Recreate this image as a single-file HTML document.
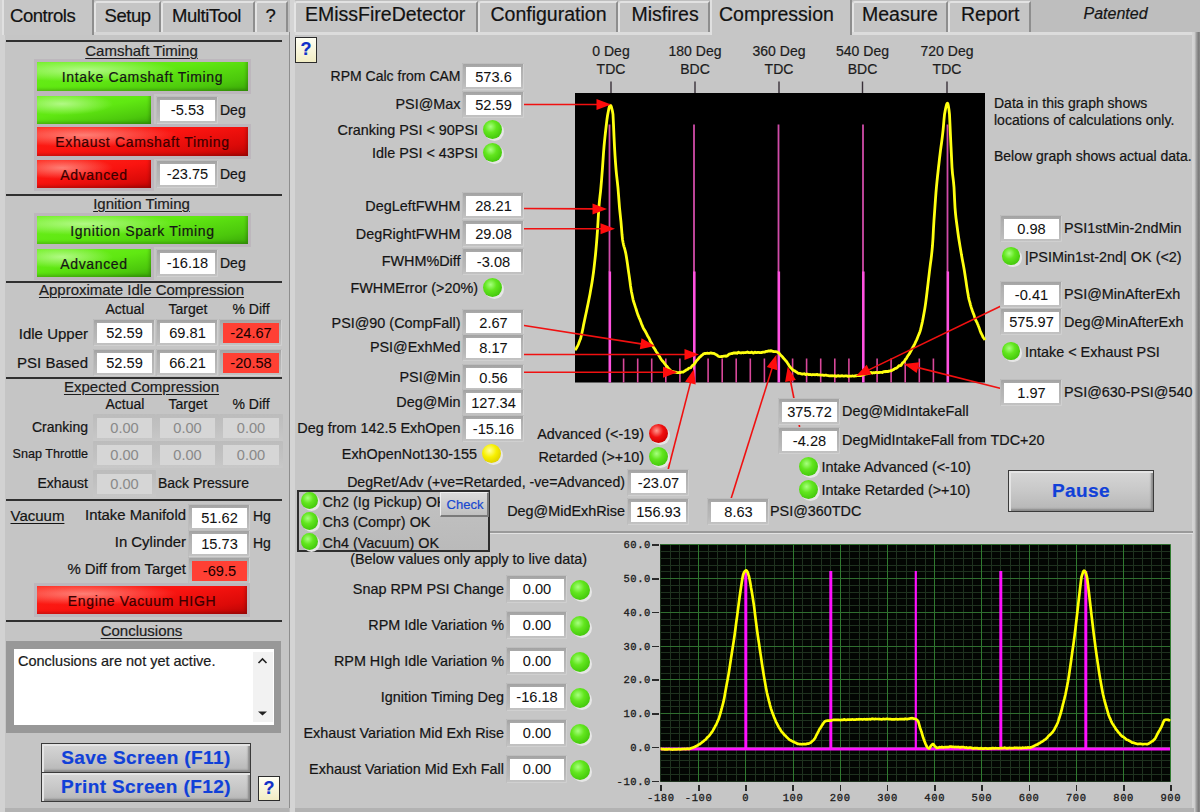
<!DOCTYPE html>
<html><head><meta charset="utf-8"><title>Compression</title>
<style>
html,body{margin:0;padding:0;width:1200px;height:812px;overflow:hidden;background:#c3c3c3;}
body{position:relative;font-family:"Liberation Sans", sans-serif;}
body div{position:absolute;}
.t{white-space:nowrap;-webkit-text-stroke:0.2px currentColor;}
</style></head><body>
<div style="left:0;top:0;width:1200px;height:812px;background:#bebebe;"></div>
<div style="left:0px;top:0px;width:5px;height:812px;background:#d2d2d2;"></div>
<div style="left:5px;top:32px;width:284px;height:776px;background:#c5c5c5;"></div>
<div style="left:5px;top:32px;width:284px;height:3px;background:#d6d6d6;"></div>
<div style="left:289px;top:32px;width:1px;height:776px;background:#8e8e8e;"></div>
<div style="left:290px;top:0px;width:5px;height:812px;background:#d4d4d4;"></div>
<div style="left:5px;top:808px;width:284px;height:4px;background:#b2b2b2;"></div>
<div style="left:295px;top:32px;width:899px;height:776px;background:#c6c6c6;"></div>
<div style="left:295px;top:32px;width:899px;height:3px;background:#dcdcdc;"></div>
<div style="left:1192px;top:32px;width:8px;height:780px;background:linear-gradient(90deg,#d6d6d6 0%,#d0d0d0 30%,#a0a0a0 55%,#7c7c7c 80%,#8a8a8a 100%);"></div>
<div style="left:295px;top:808px;width:899px;height:4px;background:#b2b2b2;"></div>
<svg width="1200" height="812" style="position:absolute;left:0;top:0">
<rect x="575" y="93" width="410" height="289.5" fill="#000"/>
<line x1="623.6" y1="358.5" x2="623.6" y2="382.5" stroke="#d8489a" stroke-width="1.6"/>
<line x1="637.7" y1="358.5" x2="637.7" y2="382.5" stroke="#d8489a" stroke-width="1.6"/>
<line x1="651.7" y1="358.5" x2="651.7" y2="382.5" stroke="#d8489a" stroke-width="1.6"/>
<line x1="665.8" y1="358.5" x2="665.8" y2="382.5" stroke="#d8489a" stroke-width="1.6"/>
<line x1="679.9" y1="358.5" x2="679.9" y2="382.5" stroke="#d8489a" stroke-width="1.6"/>
<line x1="708.1" y1="358.5" x2="708.1" y2="382.5" stroke="#d8489a" stroke-width="1.6"/>
<line x1="722.2" y1="358.5" x2="722.2" y2="382.5" stroke="#d8489a" stroke-width="1.6"/>
<line x1="736.2" y1="358.5" x2="736.2" y2="382.5" stroke="#d8489a" stroke-width="1.6"/>
<line x1="750.3" y1="358.5" x2="750.3" y2="382.5" stroke="#d8489a" stroke-width="1.6"/>
<line x1="764.4" y1="358.5" x2="764.4" y2="382.5" stroke="#d8489a" stroke-width="1.6"/>
<line x1="792.6" y1="358.5" x2="792.6" y2="382.5" stroke="#d8489a" stroke-width="1.6"/>
<line x1="806.6" y1="358.5" x2="806.6" y2="382.5" stroke="#d8489a" stroke-width="1.6"/>
<line x1="820.7" y1="358.5" x2="820.7" y2="382.5" stroke="#d8489a" stroke-width="1.6"/>
<line x1="834.8" y1="358.5" x2="834.8" y2="382.5" stroke="#d8489a" stroke-width="1.6"/>
<line x1="848.9" y1="358.5" x2="848.9" y2="382.5" stroke="#d8489a" stroke-width="1.6"/>
<line x1="877.1" y1="358.5" x2="877.1" y2="382.5" stroke="#d8489a" stroke-width="1.6"/>
<line x1="891.1" y1="358.5" x2="891.1" y2="382.5" stroke="#d8489a" stroke-width="1.6"/>
<line x1="905.2" y1="358.5" x2="905.2" y2="382.5" stroke="#d8489a" stroke-width="1.6"/>
<line x1="919.3" y1="358.5" x2="919.3" y2="382.5" stroke="#d8489a" stroke-width="1.6"/>
<line x1="933.4" y1="358.5" x2="933.4" y2="382.5" stroke="#d8489a" stroke-width="1.6"/>
<line x1="609.5" y1="124.5" x2="609.5" y2="272" stroke="#d04ca8" stroke-width="1.8"/>
<line x1="609.8" y1="271.5" x2="609.8" y2="382.5" stroke="#ff52e0" stroke-width="2.6"/>
<line x1="694.0" y1="124.5" x2="694.0" y2="272" stroke="#d04ca8" stroke-width="1.8"/>
<line x1="694.3" y1="271.5" x2="694.3" y2="382.5" stroke="#ff52e0" stroke-width="2.6"/>
<line x1="778.5" y1="124.5" x2="778.5" y2="272" stroke="#d04ca8" stroke-width="1.8"/>
<line x1="778.8" y1="271.5" x2="778.8" y2="382.5" stroke="#ff52e0" stroke-width="2.6"/>
<line x1="863.0" y1="124.5" x2="863.0" y2="272" stroke="#d04ca8" stroke-width="1.8"/>
<line x1="863.3" y1="271.5" x2="863.3" y2="382.5" stroke="#ff52e0" stroke-width="2.6"/>
<line x1="947.5" y1="124.5" x2="947.5" y2="272" stroke="#d04ca8" stroke-width="1.8"/>
<line x1="947.8" y1="271.5" x2="947.8" y2="382.5" stroke="#ff52e0" stroke-width="2.6"/>
<line x1="611" y1="81.5" x2="611" y2="93" stroke="#383038" stroke-width="1.4"/>
<line x1="695" y1="81.5" x2="695" y2="93" stroke="#383038" stroke-width="1.4"/>
<line x1="779" y1="81.5" x2="779" y2="93" stroke="#383038" stroke-width="1.4"/>
<line x1="862.5" y1="81.5" x2="862.5" y2="93" stroke="#383038" stroke-width="1.4"/>
<line x1="947" y1="81.5" x2="947" y2="93" stroke="#383038" stroke-width="1.4"/>
<polyline points="575.0,349.8 575.5,349.5 576.0,348.9 576.5,348.0 577.0,347.0 577.5,346.1 578.0,345.1 578.5,344.0 579.0,342.5 579.5,341.4 580.0,339.9 580.5,338.8 581.0,336.9 581.5,334.9 582.0,332.7 582.5,330.4 583.0,327.9 583.5,325.3 584.0,322.9 584.5,320.5 585.0,318.1 585.5,315.8 586.0,313.5 586.5,311.2 587.0,308.7 587.5,306.4 588.0,304.0 588.5,301.4 589.0,298.9 589.5,296.5 590.0,293.9 590.5,291.1 591.0,288.2 591.5,285.4 592.0,282.4 592.5,279.2 593.0,275.8 593.5,272.2 594.0,268.1 594.5,263.7 595.0,259.2 595.5,254.5 596.0,249.1 596.5,243.4 597.0,237.2 597.5,230.3 598.0,221.9 598.5,213.3 599.0,206.0 599.5,200.7 600.0,196.1 600.5,191.8 601.0,186.5 601.5,180.7 602.0,174.2 602.5,167.7 603.0,160.3 603.5,153.0 604.0,146.9 604.5,141.4 605.0,136.7 605.5,132.0 606.0,127.6 606.5,123.3 607.0,119.2 607.5,115.8 608.0,112.9 608.5,110.4 609.0,107.8 609.5,106.1 610.0,105.2 610.5,105.4 611.0,106.0 611.5,107.3 612.0,109.3 612.5,111.4 613.0,114.5 613.5,124.8 614.0,136.4 614.5,146.7 615.0,155.4 615.5,162.6 616.0,169.1 616.5,174.3 617.0,178.8 617.5,183.3 618.0,188.1 618.5,194.5 619.0,201.2 619.5,207.6 620.0,212.5 620.5,217.3 621.0,222.1 621.5,228.1 622.0,234.5 622.5,239.4 623.0,242.3 623.5,244.6 624.0,246.6 624.5,248.2 625.0,250.0 625.5,252.1 626.0,254.6 626.5,257.6 627.0,260.7 627.5,264.1 628.0,267.8 628.5,271.4 629.0,274.6 629.5,278.2 630.0,281.8 630.5,285.7 631.0,289.0 631.5,292.0 632.0,294.3 632.5,296.8 633.0,299.3 633.5,301.3 634.0,302.8 634.5,304.2 635.0,305.8 635.5,307.4 636.0,308.8 636.5,310.5 637.0,312.1 637.5,313.6 638.0,315.1 638.5,316.3 639.0,317.6 639.5,318.6 640.0,319.7 640.5,321.0 641.0,322.4 641.5,323.8 642.0,324.9 642.5,326.2 643.0,327.3 643.5,328.4 644.0,329.2 644.5,330.1 645.0,330.8 645.5,331.7 646.0,332.6 646.5,333.6 647.0,334.6 647.5,335.7 648.0,336.6 648.5,337.3 649.0,338.2 649.5,339.2 650.0,340.5 650.5,341.5 651.0,342.3 651.5,343.0 652.0,344.1 652.5,345.2 653.0,346.4 653.5,347.3 654.0,348.0 654.5,348.7 655.0,349.3 655.5,350.3 656.0,351.2 656.5,352.0 657.0,352.7 657.5,353.3 658.0,354.1 658.5,354.8 659.0,355.7 659.5,356.5 660.0,357.4 660.5,358.3 661.0,359.1 661.5,359.8 662.0,360.4 662.5,361.0 663.0,361.6 663.5,362.1 664.0,362.8 664.5,363.5 665.0,364.2 665.5,364.7 666.0,365.4 666.5,365.9 667.0,366.6 667.5,367.1 668.0,367.8 668.5,368.5 669.0,369.0 669.5,369.4 670.0,369.8 670.5,370.4 671.0,370.9 671.5,371.2 672.0,371.3 672.5,371.4 673.0,371.8 673.5,371.7 674.0,372.1 674.5,372.0 675.0,372.1 675.5,372.1 676.0,372.2 676.5,372.5 677.0,372.6 677.5,372.6 678.0,372.6 678.5,372.6 679.0,372.5 679.5,372.6 680.0,372.4 680.5,372.5 681.0,372.3 681.5,372.2 682.0,372.0 682.5,372.1 683.0,372.2 683.5,371.9 684.0,371.5 684.5,371.1 685.0,370.9 685.5,370.6 686.0,370.1 686.5,369.9 687.0,369.5 687.5,369.4 688.0,368.9 688.5,368.5 689.0,368.1 689.5,368.1 690.0,368.0 690.5,367.8 691.0,367.4 691.5,366.7 692.0,366.1 692.5,365.5 693.0,365.1 693.5,364.8 694.0,364.3 694.5,363.7 695.0,363.1 695.5,362.2 696.0,361.4 696.5,360.8 697.0,360.2 697.5,359.7 698.0,359.2 698.5,358.6 699.0,357.9 699.5,357.3 700.0,357.0 700.5,356.6 701.0,356.0 701.5,355.5 702.0,355.2 702.5,354.9 703.0,354.3 703.5,353.9 704.0,353.7 704.5,353.6 705.0,353.4 705.5,353.5 706.0,353.3 706.5,353.4 707.0,353.2 707.5,353.2 708.0,353.3 708.5,353.3 709.0,353.3 709.5,353.3 710.0,353.2 710.5,353.1 711.0,352.9 711.5,353.0 712.0,353.3 712.5,353.4 713.0,353.4 713.5,353.4 714.0,353.4 714.5,353.8 715.0,354.0 715.5,354.3 716.0,354.6 716.5,354.9 717.0,355.1 717.5,355.6 718.0,356.1 718.5,356.4 719.0,356.5 719.5,356.6 720.0,356.7 720.5,356.6 721.0,356.7 721.5,356.4 722.0,356.6 722.5,356.5 723.0,356.4 723.5,356.1 724.0,356.1 724.5,356.2 725.0,356.0 725.5,356.0 726.0,356.3 726.5,356.2 727.0,356.0 727.5,355.4 728.0,355.3 728.5,354.7 729.0,354.3 729.5,354.0 730.0,353.9 730.5,353.9 731.0,353.6 731.5,353.5 732.0,353.5 732.5,353.5 733.0,353.3 733.5,352.9 734.0,352.9 734.5,353.1 735.0,353.1 735.5,352.9 736.0,352.8 736.5,353.1 737.0,353.3 737.5,352.9 738.0,352.5 738.5,352.2 739.0,352.6 739.5,352.6 740.0,352.9 740.5,352.9 741.0,353.0 741.5,352.8 742.0,352.7 742.5,352.6 743.0,352.7 743.5,352.8 744.0,352.7 744.5,352.7 745.0,352.6 745.5,352.7 746.0,352.4 746.5,352.3 747.0,352.3 747.5,352.0 748.0,352.2 748.5,352.4 749.0,352.7 749.5,352.7 750.0,352.6 750.5,352.7 751.0,352.3 751.5,352.2 752.0,352.2 752.5,352.7 753.0,353.0 753.5,353.1 754.0,352.7 754.5,352.3 755.0,352.2 755.5,352.3 756.0,352.7 756.5,352.6 757.0,352.6 757.5,352.3 758.0,352.4 758.5,352.3 759.0,352.5 759.5,352.5 760.0,352.6 760.5,352.6 761.0,352.5 761.5,352.5 762.0,352.5 762.5,352.3 763.0,352.1 763.5,352.1 764.0,352.1 764.5,352.2 765.0,351.9 765.5,351.7 766.0,351.4 766.5,351.3 767.0,351.3 767.5,351.4 768.0,351.1 768.5,350.9 769.0,350.8 769.5,351.1 770.0,350.9 770.5,351.0 771.0,350.7 771.5,351.1 772.0,351.0 772.5,351.2 773.0,351.4 773.5,351.6 774.0,351.6 774.5,351.6 775.0,351.6 775.5,351.7 776.0,351.7 776.5,351.8 777.0,351.9 777.5,352.0 778.0,352.5 778.5,352.8 779.0,353.1 779.5,353.7 780.0,354.3 780.5,355.0 781.0,355.5 781.5,355.9 782.0,356.3 782.5,356.9 783.0,357.6 783.5,358.3 784.0,358.8 784.5,359.3 785.0,359.7 785.5,360.4 786.0,360.9 786.5,361.6 787.0,362.3 787.5,363.1 788.0,363.8 788.5,364.6 789.0,365.5 789.5,366.3 790.0,367.1 790.5,367.4 791.0,368.1 791.5,368.5 792.0,368.9 792.5,369.6 793.0,370.0 793.5,370.5 794.0,370.6 794.5,370.7 795.0,371.1 795.5,371.6 796.0,371.8 796.5,372.1 797.0,372.3 797.5,372.8 798.0,373.2 798.5,373.4 799.0,373.3 799.5,373.3 800.0,373.4 800.5,373.5 801.0,373.7 801.5,374.0 802.0,374.1 802.5,374.0 803.0,374.0 803.5,373.8 804.0,373.8 804.5,373.7 805.0,374.2 805.5,374.4 806.0,374.6 806.5,374.3 807.0,374.0 807.5,374.1 808.0,374.3 808.5,374.6 809.0,374.6 809.5,374.5 810.0,374.5 810.5,374.5 811.0,374.6 811.5,374.9 812.0,374.8 812.5,374.7 813.0,374.5 813.5,374.6 814.0,374.6 814.5,374.7 815.0,374.8 815.5,374.7 816.0,374.6 816.5,374.5 817.0,374.5 817.5,374.8 818.0,374.7 818.5,374.9 819.0,374.8 819.5,375.0 820.0,374.9 820.5,375.0 821.0,375.1 821.5,375.2 822.0,375.2 822.5,375.0 823.0,375.1 823.5,375.3 824.0,375.4 824.5,375.4 825.0,375.2 825.5,375.1 826.0,375.1 826.5,375.3 827.0,375.4 827.5,375.5 828.0,375.6 828.5,375.6 829.0,375.8 829.5,375.9 830.0,375.8 830.5,375.8 831.0,375.7 831.5,375.8 832.0,375.9 832.5,375.7 833.0,375.9 833.5,375.8 834.0,375.9 834.5,375.6 835.0,375.8 835.5,376.0 836.0,376.3 836.5,376.3 837.0,376.0 837.5,375.8 838.0,375.7 838.5,375.7 839.0,376.0 839.5,376.0 840.0,376.1 840.5,376.1 841.0,375.9 841.5,375.8 842.0,375.7 842.5,375.8 843.0,376.0 843.5,376.2 844.0,376.2 844.5,376.0 845.0,375.9 845.5,375.8 846.0,375.8 846.5,375.8 847.0,375.9 847.5,376.2 848.0,376.4 848.5,376.3 849.0,376.1 849.5,376.1 850.0,376.1 850.5,376.1 851.0,376.2 851.5,376.2 852.0,376.0 852.5,375.9 853.0,376.0 853.5,376.1 854.0,376.1 854.5,376.1 855.0,375.9 855.5,375.8 856.0,375.7 856.5,375.8 857.0,375.7 857.5,375.5 858.0,375.5 858.5,375.5 859.0,375.5 859.5,375.5 860.0,375.6 860.5,375.6 861.0,375.6 861.5,375.3 862.0,375.0 862.5,374.7 863.0,374.4 863.5,374.5 864.0,374.3 864.5,374.4 865.0,374.2 865.5,374.0 866.0,373.8 866.5,373.7 867.0,373.8 867.5,373.7 868.0,373.2 868.5,373.2 869.0,372.8 869.5,373.0 870.0,372.7 870.5,372.5 871.0,372.4 871.5,372.8 872.0,373.0 872.5,373.0 873.0,372.7 873.5,372.7 874.0,372.7 874.5,372.8 875.0,372.7 875.5,372.6 876.0,372.4 876.5,372.4 877.0,372.5 877.5,372.6 878.0,372.7 878.5,372.6 879.0,372.4 879.5,372.5 880.0,372.4 880.5,372.4 881.0,372.4 881.5,372.4 882.0,372.5 882.5,372.5 883.0,372.1 883.5,371.7 884.0,371.7 884.5,371.7 885.0,371.8 885.5,371.5 886.0,371.6 886.5,371.3 887.0,371.6 887.5,371.4 888.0,371.5 888.5,371.2 889.0,371.3 889.5,371.1 890.0,371.0 890.5,370.7 891.0,370.8 891.5,370.7 892.0,370.4 892.5,370.1 893.0,369.8 893.5,369.6 894.0,369.2 894.5,368.9 895.0,368.5 895.5,368.3 896.0,368.3 896.5,368.0 897.0,367.7 897.5,367.3 898.0,366.8 898.5,366.3 899.0,365.7 899.5,365.6 900.0,365.8 900.5,365.6 901.0,365.4 901.5,364.6 902.0,363.9 902.5,362.9 903.0,362.5 903.5,362.2 904.0,361.7 904.5,361.0 905.0,360.1 905.5,359.6 906.0,358.9 906.5,358.3 907.0,357.2 907.5,356.4 908.0,355.6 908.5,355.1 909.0,354.1 909.5,353.5 910.0,352.5 910.5,351.8 911.0,350.7 911.5,349.9 912.0,348.8 912.5,347.9 913.0,346.9 913.5,346.3 914.0,345.2 914.5,344.4 915.0,343.3 915.5,342.2 916.0,341.1 916.5,340.2 917.0,339.2 917.5,337.8 918.0,336.5 918.5,335.3 919.0,334.1 919.5,332.9 920.0,331.5 920.5,329.9 921.0,327.9 921.5,325.7 922.0,323.6 922.5,321.3 923.0,318.7 923.5,315.9 924.0,313.3 924.5,310.5 925.0,307.5 925.5,304.1 926.0,300.4 926.5,296.5 927.0,292.3 927.5,288.0 928.0,283.8 928.5,279.5 929.0,275.3 929.5,271.1 930.0,267.1 930.5,263.3 931.0,259.7 931.5,255.6 932.0,250.9 932.5,245.5 933.0,238.2 933.5,228.3 934.0,220.0 934.5,213.1 935.0,206.0 935.5,198.9 936.0,192.2 936.5,186.5 937.0,181.3 937.5,176.5 938.0,172.0 938.5,167.4 939.0,163.1 939.5,158.7 940.0,154.7 940.5,150.4 941.0,146.8 941.5,143.3 942.0,139.4 942.5,135.3 943.0,130.9 943.5,125.6 944.0,119.6 944.5,114.6 945.0,111.7 945.5,109.0 946.0,106.8 946.5,104.8 947.0,103.6 947.5,103.2 948.0,104.2 948.5,106.6 949.0,109.9 949.5,114.4 950.0,125.0 950.5,136.2 951.0,146.5 951.5,157.1 952.0,167.4 952.5,173.6 953.0,177.6 953.5,181.8 954.0,187.3 954.5,197.9 955.0,207.3 955.5,213.3 956.0,218.1 956.5,222.0 957.0,225.8 957.5,229.5 958.0,233.3 958.5,236.7 959.0,240.0 959.5,242.9 960.0,246.1 960.5,249.0 961.0,252.0 961.5,255.1 962.0,257.8 962.5,260.5 963.0,263.0 963.5,265.7 964.0,268.6 964.5,271.6 965.0,274.8 965.5,278.1 966.0,281.3 966.5,284.9 967.0,288.1 967.5,291.3 968.0,294.1 968.5,297.0 969.0,299.4 969.5,301.2 970.0,302.8 970.5,304.8 971.0,306.6 971.5,308.2 972.0,309.6 972.5,311.2 973.0,312.5 973.5,313.9 974.0,315.0 974.5,316.7 975.0,318.2 975.5,319.7 976.0,320.6 976.5,321.7 977.0,322.5 977.5,323.8 978.0,324.9 978.5,326.3 979.0,327.5 979.5,328.9 980.0,330.4 980.5,331.7 981.0,333.0 981.5,333.9 982.0,334.9 982.5,335.9 983.0,337.1 983.5,337.8 984.0,338.4 984.5,339.1 985.0,340.0" fill="none" stroke="#ffff10" stroke-width="2.8" stroke-linejoin="round"/>
<rect x="660.5" y="544.5" width="509.5" height="237.0" fill="#030603"/>
<line x1="660.5" y1="544.5" x2="660.5" y2="781.5" stroke="#1f321f" stroke-width="1"/>
<line x1="670.5" y1="544.5" x2="670.5" y2="781.5" stroke="#1f321f" stroke-width="1"/>
<line x1="679.5" y1="544.5" x2="679.5" y2="781.5" stroke="#1f321f" stroke-width="1"/>
<line x1="689.5" y1="544.5" x2="689.5" y2="781.5" stroke="#1f321f" stroke-width="1"/>
<line x1="698.5" y1="544.5" x2="698.5" y2="781.5" stroke="#1f321f" stroke-width="1"/>
<line x1="708.5" y1="544.5" x2="708.5" y2="781.5" stroke="#1f321f" stroke-width="1"/>
<line x1="717.5" y1="544.5" x2="717.5" y2="781.5" stroke="#1f321f" stroke-width="1"/>
<line x1="726.5" y1="544.5" x2="726.5" y2="781.5" stroke="#1f321f" stroke-width="1"/>
<line x1="736.5" y1="544.5" x2="736.5" y2="781.5" stroke="#1f321f" stroke-width="1"/>
<line x1="745.5" y1="544.5" x2="745.5" y2="781.5" stroke="#1f321f" stroke-width="1"/>
<line x1="755.5" y1="544.5" x2="755.5" y2="781.5" stroke="#1f321f" stroke-width="1"/>
<line x1="764.5" y1="544.5" x2="764.5" y2="781.5" stroke="#1f321f" stroke-width="1"/>
<line x1="774.5" y1="544.5" x2="774.5" y2="781.5" stroke="#1f321f" stroke-width="1"/>
<line x1="783.5" y1="544.5" x2="783.5" y2="781.5" stroke="#1f321f" stroke-width="1"/>
<line x1="793.5" y1="544.5" x2="793.5" y2="781.5" stroke="#1f321f" stroke-width="1"/>
<line x1="802.5" y1="544.5" x2="802.5" y2="781.5" stroke="#1f321f" stroke-width="1"/>
<line x1="811.5" y1="544.5" x2="811.5" y2="781.5" stroke="#1f321f" stroke-width="1"/>
<line x1="821.5" y1="544.5" x2="821.5" y2="781.5" stroke="#1f321f" stroke-width="1"/>
<line x1="830.5" y1="544.5" x2="830.5" y2="781.5" stroke="#1f321f" stroke-width="1"/>
<line x1="840.5" y1="544.5" x2="840.5" y2="781.5" stroke="#1f321f" stroke-width="1"/>
<line x1="849.5" y1="544.5" x2="849.5" y2="781.5" stroke="#1f321f" stroke-width="1"/>
<line x1="859.5" y1="544.5" x2="859.5" y2="781.5" stroke="#1f321f" stroke-width="1"/>
<line x1="868.5" y1="544.5" x2="868.5" y2="781.5" stroke="#1f321f" stroke-width="1"/>
<line x1="878.5" y1="544.5" x2="878.5" y2="781.5" stroke="#1f321f" stroke-width="1"/>
<line x1="887.5" y1="544.5" x2="887.5" y2="781.5" stroke="#1f321f" stroke-width="1"/>
<line x1="896.5" y1="544.5" x2="896.5" y2="781.5" stroke="#1f321f" stroke-width="1"/>
<line x1="906.5" y1="544.5" x2="906.5" y2="781.5" stroke="#1f321f" stroke-width="1"/>
<line x1="915.5" y1="544.5" x2="915.5" y2="781.5" stroke="#1f321f" stroke-width="1"/>
<line x1="925.5" y1="544.5" x2="925.5" y2="781.5" stroke="#1f321f" stroke-width="1"/>
<line x1="934.5" y1="544.5" x2="934.5" y2="781.5" stroke="#1f321f" stroke-width="1"/>
<line x1="944.5" y1="544.5" x2="944.5" y2="781.5" stroke="#1f321f" stroke-width="1"/>
<line x1="953.5" y1="544.5" x2="953.5" y2="781.5" stroke="#1f321f" stroke-width="1"/>
<line x1="963.5" y1="544.5" x2="963.5" y2="781.5" stroke="#1f321f" stroke-width="1"/>
<line x1="972.5" y1="544.5" x2="972.5" y2="781.5" stroke="#1f321f" stroke-width="1"/>
<line x1="981.5" y1="544.5" x2="981.5" y2="781.5" stroke="#1f321f" stroke-width="1"/>
<line x1="991.5" y1="544.5" x2="991.5" y2="781.5" stroke="#1f321f" stroke-width="1"/>
<line x1="1000.5" y1="544.5" x2="1000.5" y2="781.5" stroke="#1f321f" stroke-width="1"/>
<line x1="1010.5" y1="544.5" x2="1010.5" y2="781.5" stroke="#1f321f" stroke-width="1"/>
<line x1="1019.5" y1="544.5" x2="1019.5" y2="781.5" stroke="#1f321f" stroke-width="1"/>
<line x1="1029.5" y1="544.5" x2="1029.5" y2="781.5" stroke="#1f321f" stroke-width="1"/>
<line x1="1038.5" y1="544.5" x2="1038.5" y2="781.5" stroke="#1f321f" stroke-width="1"/>
<line x1="1048.5" y1="544.5" x2="1048.5" y2="781.5" stroke="#1f321f" stroke-width="1"/>
<line x1="1057.5" y1="544.5" x2="1057.5" y2="781.5" stroke="#1f321f" stroke-width="1"/>
<line x1="1066.5" y1="544.5" x2="1066.5" y2="781.5" stroke="#1f321f" stroke-width="1"/>
<line x1="1076.5" y1="544.5" x2="1076.5" y2="781.5" stroke="#1f321f" stroke-width="1"/>
<line x1="1085.5" y1="544.5" x2="1085.5" y2="781.5" stroke="#1f321f" stroke-width="1"/>
<line x1="1095.5" y1="544.5" x2="1095.5" y2="781.5" stroke="#1f321f" stroke-width="1"/>
<line x1="1104.5" y1="544.5" x2="1104.5" y2="781.5" stroke="#1f321f" stroke-width="1"/>
<line x1="1114.5" y1="544.5" x2="1114.5" y2="781.5" stroke="#1f321f" stroke-width="1"/>
<line x1="1123.5" y1="544.5" x2="1123.5" y2="781.5" stroke="#1f321f" stroke-width="1"/>
<line x1="1133.5" y1="544.5" x2="1133.5" y2="781.5" stroke="#1f321f" stroke-width="1"/>
<line x1="1142.5" y1="544.5" x2="1142.5" y2="781.5" stroke="#1f321f" stroke-width="1"/>
<line x1="1151.5" y1="544.5" x2="1151.5" y2="781.5" stroke="#1f321f" stroke-width="1"/>
<line x1="1161.5" y1="544.5" x2="1161.5" y2="781.5" stroke="#1f321f" stroke-width="1"/>
<line x1="1170.5" y1="544.5" x2="1170.5" y2="781.5" stroke="#1f321f" stroke-width="1"/>
<line x1="660.5" y1="781.5" x2="1170" y2="781.5" stroke="#1f321f" stroke-width="1"/>
<line x1="660.5" y1="774.5" x2="1170" y2="774.5" stroke="#1f321f" stroke-width="1"/>
<line x1="660.5" y1="767.5" x2="1170" y2="767.5" stroke="#1f321f" stroke-width="1"/>
<line x1="660.5" y1="760.5" x2="1170" y2="760.5" stroke="#1f321f" stroke-width="1"/>
<line x1="660.5" y1="754.5" x2="1170" y2="754.5" stroke="#1f321f" stroke-width="1"/>
<line x1="660.5" y1="747.5" x2="1170" y2="747.5" stroke="#1f321f" stroke-width="1"/>
<line x1="660.5" y1="740.5" x2="1170" y2="740.5" stroke="#1f321f" stroke-width="1"/>
<line x1="660.5" y1="733.5" x2="1170" y2="733.5" stroke="#1f321f" stroke-width="1"/>
<line x1="660.5" y1="727.5" x2="1170" y2="727.5" stroke="#1f321f" stroke-width="1"/>
<line x1="660.5" y1="720.5" x2="1170" y2="720.5" stroke="#1f321f" stroke-width="1"/>
<line x1="660.5" y1="713.5" x2="1170" y2="713.5" stroke="#1f321f" stroke-width="1"/>
<line x1="660.5" y1="706.5" x2="1170" y2="706.5" stroke="#1f321f" stroke-width="1"/>
<line x1="660.5" y1="700.5" x2="1170" y2="700.5" stroke="#1f321f" stroke-width="1"/>
<line x1="660.5" y1="693.5" x2="1170" y2="693.5" stroke="#1f321f" stroke-width="1"/>
<line x1="660.5" y1="686.5" x2="1170" y2="686.5" stroke="#1f321f" stroke-width="1"/>
<line x1="660.5" y1="679.5" x2="1170" y2="679.5" stroke="#1f321f" stroke-width="1"/>
<line x1="660.5" y1="673.5" x2="1170" y2="673.5" stroke="#1f321f" stroke-width="1"/>
<line x1="660.5" y1="666.5" x2="1170" y2="666.5" stroke="#1f321f" stroke-width="1"/>
<line x1="660.5" y1="659.5" x2="1170" y2="659.5" stroke="#1f321f" stroke-width="1"/>
<line x1="660.5" y1="652.5" x2="1170" y2="652.5" stroke="#1f321f" stroke-width="1"/>
<line x1="660.5" y1="646.5" x2="1170" y2="646.5" stroke="#1f321f" stroke-width="1"/>
<line x1="660.5" y1="639.5" x2="1170" y2="639.5" stroke="#1f321f" stroke-width="1"/>
<line x1="660.5" y1="632.5" x2="1170" y2="632.5" stroke="#1f321f" stroke-width="1"/>
<line x1="660.5" y1="625.5" x2="1170" y2="625.5" stroke="#1f321f" stroke-width="1"/>
<line x1="660.5" y1="619.5" x2="1170" y2="619.5" stroke="#1f321f" stroke-width="1"/>
<line x1="660.5" y1="612.5" x2="1170" y2="612.5" stroke="#1f321f" stroke-width="1"/>
<line x1="660.5" y1="605.5" x2="1170" y2="605.5" stroke="#1f321f" stroke-width="1"/>
<line x1="660.5" y1="598.5" x2="1170" y2="598.5" stroke="#1f321f" stroke-width="1"/>
<line x1="660.5" y1="592.5" x2="1170" y2="592.5" stroke="#1f321f" stroke-width="1"/>
<line x1="660.5" y1="585.5" x2="1170" y2="585.5" stroke="#1f321f" stroke-width="1"/>
<line x1="660.5" y1="578.5" x2="1170" y2="578.5" stroke="#1f321f" stroke-width="1"/>
<line x1="660.5" y1="571.5" x2="1170" y2="571.5" stroke="#1f321f" stroke-width="1"/>
<line x1="660.5" y1="565.5" x2="1170" y2="565.5" stroke="#1f321f" stroke-width="1"/>
<line x1="660.5" y1="558.5" x2="1170" y2="558.5" stroke="#1f321f" stroke-width="1"/>
<line x1="660.5" y1="551.5" x2="1170" y2="551.5" stroke="#1f321f" stroke-width="1"/>
<line x1="660.5" y1="544.5" x2="1170" y2="544.5" stroke="#1f321f" stroke-width="1"/>
<line x1="698.5" y1="544.5" x2="698.5" y2="781.5" stroke="#2f7a2f" stroke-width="1"/>
<line x1="745.5" y1="544.5" x2="745.5" y2="781.5" stroke="#2f7a2f" stroke-width="1"/>
<line x1="793.5" y1="544.5" x2="793.5" y2="781.5" stroke="#2f7a2f" stroke-width="1"/>
<line x1="840.5" y1="544.5" x2="840.5" y2="781.5" stroke="#2f7a2f" stroke-width="1"/>
<line x1="887.5" y1="544.5" x2="887.5" y2="781.5" stroke="#2f7a2f" stroke-width="1"/>
<line x1="934.5" y1="544.5" x2="934.5" y2="781.5" stroke="#2f7a2f" stroke-width="1"/>
<line x1="981.5" y1="544.5" x2="981.5" y2="781.5" stroke="#2f7a2f" stroke-width="1"/>
<line x1="1029.5" y1="544.5" x2="1029.5" y2="781.5" stroke="#2f7a2f" stroke-width="1"/>
<line x1="1076.5" y1="544.5" x2="1076.5" y2="781.5" stroke="#2f7a2f" stroke-width="1"/>
<line x1="1123.5" y1="544.5" x2="1123.5" y2="781.5" stroke="#2f7a2f" stroke-width="1"/>
<line x1="1170.5" y1="544.5" x2="1170.5" y2="781.5" stroke="#2f7a2f" stroke-width="1"/>
<line x1="660.5" y1="747.5" x2="1170" y2="747.5" stroke="#2f6e2f" stroke-width="1"/>
<line x1="660.5" y1="713.5" x2="1170" y2="713.5" stroke="#2f6e2f" stroke-width="1"/>
<line x1="660.5" y1="679.5" x2="1170" y2="679.5" stroke="#2f6e2f" stroke-width="1"/>
<line x1="660.5" y1="646.5" x2="1170" y2="646.5" stroke="#2f6e2f" stroke-width="1"/>
<line x1="660.5" y1="612.5" x2="1170" y2="612.5" stroke="#2f6e2f" stroke-width="1"/>
<line x1="660.5" y1="578.5" x2="1170" y2="578.5" stroke="#2f6e2f" stroke-width="1"/>
<line x1="660.5" y1="544.5" x2="1170" y2="544.5" stroke="#2f6e2f" stroke-width="1"/>
<line x1="660.5" y1="749" x2="1170" y2="749" stroke="#ff10ff" stroke-width="3"/>
<line x1="745.8" y1="571" x2="745.8" y2="749" stroke="#ff10ff" stroke-width="3"/>
<line x1="830.8" y1="571" x2="830.8" y2="749" stroke="#ff10ff" stroke-width="3"/>
<line x1="915.8" y1="571" x2="915.8" y2="749" stroke="#ff10ff" stroke-width="2.2"/>
<line x1="1000.8" y1="571" x2="1000.8" y2="749" stroke="#ff10ff" stroke-width="3"/>
<line x1="1085.8" y1="571" x2="1085.8" y2="749" stroke="#ff10ff" stroke-width="3"/>
<polyline points="660.5,748.8 661.0,748.8 661.5,749.0 662.0,749.2 662.5,749.3 663.0,749.2 663.5,749.1 664.0,749.2 664.5,749.4 665.0,749.5 665.5,749.4 666.0,749.1 666.5,749.3 667.0,749.5 667.5,749.4 668.0,749.2 668.5,749.1 669.0,749.2 669.5,749.2 670.0,749.3 670.5,749.4 671.0,749.4 671.5,749.5 672.0,749.5 672.5,749.6 673.0,749.5 673.5,749.4 674.0,749.2 674.5,749.4 675.0,749.3 675.5,749.4 676.0,749.4 676.5,749.5 677.0,749.3 677.5,749.3 678.0,749.2 678.5,749.2 679.0,749.2 679.5,749.2 680.0,749.4 680.5,749.5 681.0,749.3 681.5,749.2 682.0,749.0 682.5,749.2 683.0,749.1 683.5,749.0 684.0,749.0 684.5,748.9 685.0,749.2 685.5,749.0 686.0,749.1 686.5,748.8 687.0,748.9 687.5,748.7 688.0,748.8 688.5,748.8 689.0,749.1 689.5,748.9 690.0,748.8 690.5,748.5 691.0,748.2 691.5,748.0 692.0,747.9 692.5,747.7 693.0,747.6 693.5,747.3 694.0,747.2 694.5,747.0 695.0,746.8 695.5,746.5 696.0,746.3 696.5,746.0 697.0,745.8 697.5,745.4 698.0,745.0 698.5,744.5 699.0,744.5 699.5,744.3 700.0,744.0 700.5,743.4 701.0,743.2 701.5,742.8 702.0,742.4 702.5,742.0 703.0,741.6 703.5,741.2 704.0,740.7 704.5,740.4 705.0,739.9 705.5,739.6 706.0,739.2 706.5,738.6 707.0,737.8 707.5,737.3 708.0,736.9 708.5,736.5 709.0,735.9 709.5,735.3 710.0,734.6 710.5,734.0 711.0,733.3 711.5,732.6 712.0,731.9 712.5,731.2 713.0,730.4 713.5,729.4 714.0,728.5 714.5,727.6 715.0,726.7 715.5,725.7 716.0,724.8 716.5,723.8 717.0,722.7 717.5,721.5 718.0,720.4 718.5,719.3 719.0,717.9 719.5,716.3 720.0,714.7 720.5,712.9 721.0,711.1 721.5,709.1 722.0,707.4 722.5,705.5 723.0,703.6 723.5,701.7 724.0,699.4 724.5,696.7 725.0,693.8 725.5,691.0 726.0,688.2 726.5,685.5 727.0,682.8 727.5,680.3 728.0,677.6 728.5,674.8 729.0,671.7 729.5,668.4 730.0,665.1 730.5,661.7 731.0,658.4 731.5,655.3 732.0,652.0 732.5,648.7 733.0,645.6 733.5,642.5 734.0,639.3 734.5,635.8 735.0,632.1 735.5,628.3 736.0,624.3 736.5,620.5 737.0,617.1 737.5,613.2 738.0,609.4 738.5,605.4 739.0,601.6 739.5,597.8 740.0,594.2 740.5,590.7 741.0,587.4 741.5,584.1 742.0,580.8 742.5,577.7 743.0,575.2 743.5,573.7 744.0,572.5 744.5,571.7 745.0,571.1 745.5,570.6 746.0,570.3 746.5,570.5 747.0,571.1 747.5,572.0 748.0,573.1 748.5,574.9 749.0,576.5 749.5,578.7 750.0,581.2 750.5,584.2 751.0,587.5 751.5,590.3 752.0,593.0 752.5,596.1 753.0,599.3 753.5,602.6 754.0,605.8 754.5,609.8 755.0,614.0 755.5,618.2 756.0,622.1 756.5,626.0 757.0,629.7 757.5,633.5 758.0,637.0 758.5,640.3 759.0,643.4 759.5,647.0 760.0,650.5 760.5,653.9 761.0,657.1 761.5,660.5 762.0,664.1 762.5,667.2 763.0,670.5 763.5,673.5 764.0,676.6 764.5,679.4 765.0,682.3 765.5,685.3 766.0,688.1 766.5,690.6 767.0,693.0 767.5,695.1 768.0,697.2 768.5,699.1 769.0,701.1 769.5,702.9 770.0,705.1 770.5,706.8 771.0,708.6 771.5,710.1 772.0,711.6 772.5,713.1 773.0,714.2 773.5,715.6 774.0,716.9 774.5,718.2 775.0,719.2 775.5,720.4 776.0,721.7 776.5,722.8 777.0,723.6 777.5,724.6 778.0,725.7 778.5,726.7 779.0,727.6 779.5,728.2 780.0,729.0 780.5,729.9 781.0,730.8 781.5,731.6 782.0,732.1 782.5,732.6 783.0,733.1 783.5,733.8 784.0,734.5 784.5,735.0 785.0,735.3 785.5,735.8 786.0,736.4 786.5,737.0 787.0,737.4 787.5,737.9 788.0,738.4 788.5,738.9 789.0,739.4 789.5,739.8 790.0,740.1 790.5,740.3 791.0,740.5 791.5,740.8 792.0,741.1 792.5,741.4 793.0,741.7 793.5,741.9 794.0,741.9 794.5,742.2 795.0,742.4 795.5,742.9 796.0,742.9 796.5,743.2 797.0,743.5 797.5,743.8 798.0,743.8 798.5,743.9 799.0,744.0 799.5,744.1 800.0,744.0 800.5,744.2 801.0,744.2 801.5,744.3 802.0,744.2 802.5,744.0 803.0,744.0 803.5,744.0 804.0,744.2 804.5,744.1 805.0,744.1 805.5,744.2 806.0,744.1 806.5,744.0 807.0,743.7 807.5,743.7 808.0,743.7 808.5,743.6 809.0,743.2 809.5,743.1 810.0,742.8 810.5,742.8 811.0,742.4 811.5,742.0 812.0,741.4 812.5,740.9 813.0,740.6 813.5,740.1 814.0,739.5 814.5,738.9 815.0,738.1 815.5,737.1 816.0,736.0 816.5,735.0 817.0,734.1 817.5,733.2 818.0,732.2 818.5,731.3 819.0,730.1 819.5,729.2 820.0,728.4 820.5,727.8 821.0,727.1 821.5,726.1 822.0,725.3 822.5,724.6 823.0,723.9 823.5,723.0 824.0,722.4 824.5,721.8 825.0,721.4 825.5,721.0 826.0,720.9 826.5,720.8 827.0,720.8 827.5,720.6 828.0,720.5 828.5,720.5 829.0,720.6 829.5,720.7 830.0,720.6 830.5,720.7 831.0,720.6 831.5,720.3 832.0,720.2 832.5,720.0 833.0,720.0 833.5,719.9 834.0,719.8 834.5,719.8 835.0,719.8 835.5,719.9 836.0,720.0 836.5,719.9 837.0,719.8 837.5,719.8 838.0,719.9 838.5,719.9 839.0,719.9 839.5,720.0 840.0,720.0 840.5,720.1 841.0,720.0 841.5,719.8 842.0,719.8 842.5,719.9 843.0,719.9 843.5,719.6 844.0,719.3 844.5,719.3 845.0,719.6 845.5,720.0 846.0,720.0 846.5,720.0 847.0,719.8 847.5,719.6 848.0,719.7 848.5,719.6 849.0,719.7 849.5,719.7 850.0,719.7 850.5,719.7 851.0,719.7 851.5,719.6 852.0,719.4 852.5,719.4 853.0,719.6 853.5,719.6 854.0,719.7 854.5,719.6 855.0,719.7 855.5,719.7 856.0,719.5 856.5,719.4 857.0,719.5 857.5,719.5 858.0,719.4 858.5,719.2 859.0,719.3 859.5,719.2 860.0,719.4 860.5,719.3 861.0,719.2 861.5,719.3 862.0,719.4 862.5,719.6 863.0,719.4 863.5,719.3 864.0,719.2 864.5,719.2 865.0,719.3 865.5,719.4 866.0,719.4 866.5,719.2 867.0,719.1 867.5,719.2 868.0,719.4 868.5,719.3 869.0,719.2 869.5,719.1 870.0,719.2 870.5,719.4 871.0,719.1 871.5,719.0 872.0,718.8 872.5,719.0 873.0,718.9 873.5,719.0 874.0,719.0 874.5,719.2 875.0,719.0 875.5,718.9 876.0,719.0 876.5,719.0 877.0,719.0 877.5,719.0 878.0,719.0 878.5,719.1 879.0,719.0 879.5,719.2 880.0,719.1 880.5,719.2 881.0,719.3 881.5,719.3 882.0,719.4 882.5,719.1 883.0,719.0 883.5,718.9 884.0,719.1 884.5,719.2 885.0,719.2 885.5,719.0 886.0,719.0 886.5,718.9 887.0,719.0 887.5,718.9 888.0,719.0 888.5,719.0 889.0,719.2 889.5,719.2 890.0,719.1 890.5,719.1 891.0,719.1 891.5,719.4 892.0,719.3 892.5,719.3 893.0,719.2 893.5,719.4 894.0,719.4 894.5,719.5 895.0,719.3 895.5,719.1 896.0,719.0 896.5,719.1 897.0,719.3 897.5,719.5 898.0,719.4 898.5,719.3 899.0,719.2 899.5,719.1 900.0,719.2 900.5,719.1 901.0,719.1 901.5,719.1 902.0,719.1 902.5,719.2 903.0,719.2 903.5,719.2 904.0,719.3 904.5,719.0 905.0,718.8 905.5,718.7 906.0,718.9 906.5,719.2 907.0,719.2 907.5,719.1 908.0,718.8 908.5,718.8 909.0,718.7 909.5,718.7 910.0,718.5 910.5,718.4 911.0,718.5 911.5,718.2 912.0,718.3 912.5,718.2 913.0,718.5 913.5,718.6 914.0,718.6 914.5,718.7 915.0,718.8 915.5,719.0 916.0,719.2 916.5,719.4 917.0,719.9 917.5,720.4 918.0,721.1 918.5,722.1 919.0,724.0 919.5,725.8 920.0,727.7 920.5,729.1 921.0,730.5 921.5,731.8 922.0,733.6 922.5,735.3 923.0,737.0 923.5,738.5 924.0,739.8 924.5,741.3 925.0,742.5 925.5,743.8 926.0,744.9 926.5,746.0 927.0,746.9 927.5,747.5 928.0,747.9 928.5,748.2 929.0,748.5 929.5,748.3 930.0,747.4 930.5,746.5 931.0,745.7 931.5,745.2 932.0,744.7 932.5,744.2 933.0,744.0 933.5,744.3 934.0,744.9 934.5,745.8 935.0,746.4 935.5,746.9 936.0,747.1 936.5,747.5 937.0,747.8 937.5,747.8 938.0,747.7 938.5,747.6 939.0,747.5 939.5,747.2 940.0,747.2 940.5,747.3 941.0,747.4 941.5,747.3 942.0,746.9 942.5,747.1 943.0,747.2 943.5,747.5 944.0,747.3 944.5,747.2 945.0,747.1 945.5,747.1 946.0,747.1 946.5,747.1 947.0,747.1 947.5,747.2 948.0,747.1 948.5,747.1 949.0,746.8 949.5,746.8 950.0,746.5 950.5,746.6 951.0,746.6 951.5,746.8 952.0,746.8 952.5,746.8 953.0,746.8 953.5,746.8 954.0,747.0 954.5,747.1 955.0,747.0 955.5,747.0 956.0,746.9 956.5,747.1 957.0,747.0 957.5,747.1 958.0,746.9 958.5,747.0 959.0,747.1 959.5,747.2 960.0,747.4 960.5,747.2 961.0,747.3 961.5,747.1 962.0,747.1 962.5,747.0 963.0,747.0 963.5,747.1 964.0,747.2 964.5,747.4 965.0,747.6 965.5,747.5 966.0,747.5 966.5,747.4 967.0,747.7 967.5,747.9 968.0,748.0 968.5,748.0 969.0,747.8 969.5,747.5 970.0,747.6 970.5,747.6 971.0,747.8 971.5,747.8 972.0,748.0 972.5,748.2 973.0,748.4 973.5,748.4 974.0,748.2 974.5,748.2 975.0,748.2 975.5,748.1 976.0,748.3 976.5,748.2 977.0,748.2 977.5,748.2 978.0,748.5 978.5,748.6 979.0,748.4 979.5,748.5 980.0,748.6 980.5,748.5 981.0,748.1 981.5,748.3 982.0,748.6 982.5,748.7 983.0,748.7 983.5,748.7 984.0,748.6 984.5,748.3 985.0,748.3 985.5,748.2 986.0,748.3 986.5,748.5 987.0,748.6 987.5,748.6 988.0,748.5 988.5,748.5 989.0,748.6 989.5,748.4 990.0,748.4 990.5,748.4 991.0,748.6 991.5,748.5 992.0,748.3 992.5,748.0 993.0,748.0 993.5,748.2 994.0,748.4 994.5,748.4 995.0,748.2 995.5,748.2 996.0,748.2 996.5,748.3 997.0,748.2 997.5,748.3 998.0,748.4 998.5,748.5 999.0,748.3 999.5,748.3 1000.0,748.2 1000.5,748.2 1001.0,748.0 1001.5,748.2 1002.0,748.2 1002.5,748.1 1003.0,748.1 1003.5,748.0 1004.0,748.0 1004.5,747.7 1005.0,747.9 1005.5,747.9 1006.0,748.1 1006.5,748.1 1007.0,748.4 1007.5,748.3 1008.0,748.1 1008.5,748.1 1009.0,748.0 1009.5,747.9 1010.0,748.0 1010.5,748.0 1011.0,748.3 1011.5,748.2 1012.0,748.2 1012.5,748.1 1013.0,748.2 1013.5,748.1 1014.0,747.9 1014.5,747.7 1015.0,747.8 1015.5,747.9 1016.0,748.0 1016.5,747.9 1017.0,747.8 1017.5,747.9 1018.0,748.1 1018.5,748.2 1019.0,747.9 1019.5,747.8 1020.0,747.8 1020.5,748.0 1021.0,748.1 1021.5,748.1 1022.0,748.0 1022.5,747.7 1023.0,747.7 1023.5,747.8 1024.0,748.0 1024.5,747.8 1025.0,747.7 1025.5,747.6 1026.0,747.8 1026.5,747.9 1027.0,747.7 1027.5,747.5 1028.0,747.4 1028.5,747.5 1029.0,747.6 1029.5,747.8 1030.0,747.7 1030.5,747.5 1031.0,747.2 1031.5,747.1 1032.0,746.9 1032.5,746.7 1033.0,746.5 1033.5,746.2 1034.0,746.0 1034.5,745.7 1035.0,745.4 1035.5,745.2 1036.0,744.9 1036.5,745.0 1037.0,744.7 1037.5,744.5 1038.0,744.0 1038.5,743.6 1039.0,743.4 1039.5,743.2 1040.0,743.0 1040.5,742.4 1041.0,742.2 1041.5,741.8 1042.0,741.8 1042.5,741.4 1043.0,741.1 1043.5,740.6 1044.0,740.2 1044.5,739.7 1045.0,739.6 1045.5,739.3 1046.0,738.9 1046.5,738.4 1047.0,738.0 1047.5,737.4 1048.0,736.6 1048.5,736.0 1049.0,735.5 1049.5,735.2 1050.0,734.7 1050.5,734.2 1051.0,733.7 1051.5,733.3 1052.0,732.7 1052.5,732.2 1053.0,731.5 1053.5,730.7 1054.0,730.0 1054.5,729.1 1055.0,728.1 1055.5,727.2 1056.0,726.3 1056.5,725.5 1057.0,724.3 1057.5,723.2 1058.0,721.9 1058.5,720.4 1059.0,718.7 1059.5,717.2 1060.0,715.6 1060.5,714.0 1061.0,712.2 1061.5,710.5 1062.0,708.4 1062.5,706.3 1063.0,704.1 1063.5,702.4 1064.0,700.3 1064.5,698.4 1065.0,696.3 1065.5,694.2 1066.0,691.7 1066.5,689.2 1067.0,686.7 1067.5,684.1 1068.0,681.4 1068.5,678.3 1069.0,675.2 1069.5,671.7 1070.0,668.4 1070.5,665.0 1071.0,661.5 1071.5,657.8 1072.0,654.1 1072.5,650.5 1073.0,647.1 1073.5,643.7 1074.0,640.0 1074.5,636.1 1075.0,632.2 1075.5,628.2 1076.0,623.9 1076.5,619.5 1077.0,615.1 1077.5,610.8 1078.0,606.2 1078.5,601.9 1079.0,597.5 1079.5,593.3 1080.0,589.0 1080.5,584.9 1081.0,580.6 1081.5,577.0 1082.0,575.4 1082.5,573.8 1083.0,572.3 1083.5,571.1 1084.0,570.6 1084.5,570.9 1085.0,571.3 1085.5,572.3 1086.0,573.7 1086.5,575.4 1087.0,577.1 1087.5,580.6 1088.0,584.7 1088.5,588.8 1089.0,593.2 1089.5,597.6 1090.0,602.0 1090.5,606.5 1091.0,610.9 1091.5,615.2 1092.0,619.1 1092.5,623.4 1093.0,627.7 1093.5,631.8 1094.0,635.8 1094.5,639.6 1095.0,643.4 1095.5,647.3 1096.0,651.0 1096.5,654.6 1097.0,657.9 1097.5,661.4 1098.0,664.8 1098.5,668.1 1099.0,671.6 1099.5,674.9 1100.0,677.9 1100.5,680.6 1101.0,683.4 1101.5,686.3 1102.0,689.1 1102.5,691.7 1103.0,694.2 1103.5,696.3 1104.0,698.5 1104.5,700.4 1105.0,702.5 1105.5,704.1 1106.0,706.0 1106.5,707.6 1107.0,709.4 1107.5,711.1 1108.0,712.9 1108.5,714.7 1109.0,716.1 1109.5,717.3 1110.0,718.3 1110.5,719.4 1111.0,720.7 1111.5,721.9 1112.0,722.9 1112.5,723.7 1113.0,724.4 1113.5,725.2 1114.0,726.0 1114.5,726.7 1115.0,727.5 1115.5,728.4 1116.0,729.3 1116.5,729.9 1117.0,730.3 1117.5,731.2 1118.0,731.8 1118.5,732.5 1119.0,732.9 1119.5,733.3 1120.0,734.2 1120.5,734.8 1121.0,735.2 1121.5,735.7 1122.0,736.2 1122.5,736.6 1123.0,736.6 1123.5,736.9 1124.0,737.4 1124.5,738.0 1125.0,738.1 1125.5,738.7 1126.0,739.1 1126.5,739.6 1127.0,739.7 1127.5,739.9 1128.0,740.1 1128.5,740.3 1129.0,740.7 1129.5,740.8 1130.0,741.3 1130.5,741.4 1131.0,741.8 1131.5,742.1 1132.0,742.6 1132.5,742.7 1133.0,742.7 1133.5,742.7 1134.0,742.8 1134.5,743.1 1135.0,743.2 1135.5,743.4 1136.0,743.5 1136.5,743.7 1137.0,743.8 1137.5,744.0 1138.0,744.1 1138.5,743.9 1139.0,743.9 1139.5,743.8 1140.0,744.0 1140.5,743.9 1141.0,743.9 1141.5,744.0 1142.0,744.1 1142.5,744.2 1143.0,744.3 1143.5,744.2 1144.0,744.0 1144.5,744.0 1145.0,744.0 1145.5,744.0 1146.0,744.0 1146.5,744.2 1147.0,744.2 1147.5,744.2 1148.0,743.8 1148.5,743.7 1149.0,743.2 1149.5,743.0 1150.0,742.7 1150.5,742.5 1151.0,741.9 1151.5,741.7 1152.0,741.4 1152.5,741.3 1153.0,740.7 1153.5,740.2 1154.0,739.7 1154.5,739.2 1155.0,738.7 1155.5,737.8 1156.0,736.8 1156.5,735.9 1157.0,734.8 1157.5,734.0 1158.0,732.9 1158.5,732.0 1159.0,731.2 1159.5,730.4 1160.0,729.5 1160.5,728.5 1161.0,727.6 1161.5,726.6 1162.0,725.4 1162.5,724.2 1163.0,722.9 1163.5,721.8 1164.0,720.8 1164.5,720.1 1165.0,719.9 1165.5,720.0 1166.0,719.8 1166.5,719.7 1167.0,719.6 1167.5,719.7 1168.0,720.0 1168.5,719.9 1169.0,720.2 1169.5,720.5 1170.0,721.0" fill="none" stroke="#ffff00" stroke-width="2.7" stroke-linejoin="round"/>
</svg>
<div class="t" style="right:549px;top:775.7px;font-family:'Liberation Mono', monospace;font-size:10.5px;line-height:12px;letter-spacing:0.6px;color:#1a1a1a;font-weight:400;-webkit-text-stroke:0.3px #1a1a1a;">-10.0</div>
<div style="left:652px;top:780.7px;width:7px;height:1.5px;background:#2a2a2a;"></div>
<div class="t" style="right:549px;top:741.9px;font-family:'Liberation Mono', monospace;font-size:10.5px;line-height:12px;letter-spacing:0.6px;color:#1a1a1a;font-weight:400;-webkit-text-stroke:0.3px #1a1a1a;">0.0</div>
<div style="left:652px;top:746.9px;width:7px;height:1.5px;background:#2a2a2a;"></div>
<div class="t" style="right:549px;top:708.1px;font-family:'Liberation Mono', monospace;font-size:10.5px;line-height:12px;letter-spacing:0.6px;color:#1a1a1a;font-weight:400;-webkit-text-stroke:0.3px #1a1a1a;">10.0</div>
<div style="left:652px;top:713.1px;width:7px;height:1.5px;background:#2a2a2a;"></div>
<div class="t" style="right:549px;top:674.4px;font-family:'Liberation Mono', monospace;font-size:10.5px;line-height:12px;letter-spacing:0.6px;color:#1a1a1a;font-weight:400;-webkit-text-stroke:0.3px #1a1a1a;">20.0</div>
<div style="left:652px;top:679.4px;width:7px;height:1.5px;background:#2a2a2a;"></div>
<div class="t" style="right:549px;top:640.6px;font-family:'Liberation Mono', monospace;font-size:10.5px;line-height:12px;letter-spacing:0.6px;color:#1a1a1a;font-weight:400;-webkit-text-stroke:0.3px #1a1a1a;">30.0</div>
<div style="left:652px;top:645.6px;width:7px;height:1.5px;background:#2a2a2a;"></div>
<div class="t" style="right:549px;top:606.9px;font-family:'Liberation Mono', monospace;font-size:10.5px;line-height:12px;letter-spacing:0.6px;color:#1a1a1a;font-weight:400;-webkit-text-stroke:0.3px #1a1a1a;">40.0</div>
<div style="left:652px;top:611.9px;width:7px;height:1.5px;background:#2a2a2a;"></div>
<div class="t" style="right:549px;top:573.1px;font-family:'Liberation Mono', monospace;font-size:10.5px;line-height:12px;letter-spacing:0.6px;color:#1a1a1a;font-weight:400;-webkit-text-stroke:0.3px #1a1a1a;">50.0</div>
<div style="left:652px;top:578.1px;width:7px;height:1.5px;background:#2a2a2a;"></div>
<div class="t" style="right:549px;top:539.3px;font-family:'Liberation Mono', monospace;font-size:10.5px;line-height:12px;letter-spacing:0.6px;color:#1a1a1a;font-weight:400;-webkit-text-stroke:0.3px #1a1a1a;">60.0</div>
<div style="left:652px;top:544.3px;width:7px;height:1.5px;background:#2a2a2a;"></div>
<div style="left:660.2px;top:784.5px;width:1.5px;height:6px;background:#2a2a2a;"></div>
<div class="t" style="left:600.8px;width:120px;text-align:center;top:791.5px;font-family:'Liberation Mono', monospace;font-size:10.5px;line-height:12px;letter-spacing:0.6px;color:#1a1a1a;font-weight:400;-webkit-text-stroke:0.3px #1a1a1a;">-180</div>
<div style="left:698.0px;top:784.5px;width:1.5px;height:6px;background:#2a2a2a;"></div>
<div class="t" style="left:638.6px;width:120px;text-align:center;top:791.5px;font-family:'Liberation Mono', monospace;font-size:10.5px;line-height:12px;letter-spacing:0.6px;color:#1a1a1a;font-weight:400;-webkit-text-stroke:0.3px #1a1a1a;">-100</div>
<div style="left:745.2px;top:784.5px;width:1.5px;height:6px;background:#2a2a2a;"></div>
<div class="t" style="left:685.8px;width:120px;text-align:center;top:791.5px;font-family:'Liberation Mono', monospace;font-size:10.5px;line-height:12px;letter-spacing:0.6px;color:#1a1a1a;font-weight:400;-webkit-text-stroke:0.3px #1a1a1a;">0</div>
<div style="left:792.4px;top:784.5px;width:1.5px;height:6px;background:#2a2a2a;"></div>
<div class="t" style="left:733.0px;width:120px;text-align:center;top:791.5px;font-family:'Liberation Mono', monospace;font-size:10.5px;line-height:12px;letter-spacing:0.6px;color:#1a1a1a;font-weight:400;-webkit-text-stroke:0.3px #1a1a1a;">100</div>
<div style="left:839.6px;top:784.5px;width:1.5px;height:6px;background:#2a2a2a;"></div>
<div class="t" style="left:780.2px;width:120px;text-align:center;top:791.5px;font-family:'Liberation Mono', monospace;font-size:10.5px;line-height:12px;letter-spacing:0.6px;color:#1a1a1a;font-weight:400;-webkit-text-stroke:0.3px #1a1a1a;">200</div>
<div style="left:886.9px;top:784.5px;width:1.5px;height:6px;background:#2a2a2a;"></div>
<div class="t" style="left:827.5px;width:120px;text-align:center;top:791.5px;font-family:'Liberation Mono', monospace;font-size:10.5px;line-height:12px;letter-spacing:0.6px;color:#1a1a1a;font-weight:400;-webkit-text-stroke:0.3px #1a1a1a;">300</div>
<div style="left:934.1px;top:784.5px;width:1.5px;height:6px;background:#2a2a2a;"></div>
<div class="t" style="left:874.7px;width:120px;text-align:center;top:791.5px;font-family:'Liberation Mono', monospace;font-size:10.5px;line-height:12px;letter-spacing:0.6px;color:#1a1a1a;font-weight:400;-webkit-text-stroke:0.3px #1a1a1a;">400</div>
<div style="left:981.3px;top:784.5px;width:1.5px;height:6px;background:#2a2a2a;"></div>
<div class="t" style="left:921.9px;width:120px;text-align:center;top:791.5px;font-family:'Liberation Mono', monospace;font-size:10.5px;line-height:12px;letter-spacing:0.6px;color:#1a1a1a;font-weight:400;-webkit-text-stroke:0.3px #1a1a1a;">500</div>
<div style="left:1028.5px;top:784.5px;width:1.5px;height:6px;background:#2a2a2a;"></div>
<div class="t" style="left:969.1px;width:120px;text-align:center;top:791.5px;font-family:'Liberation Mono', monospace;font-size:10.5px;line-height:12px;letter-spacing:0.6px;color:#1a1a1a;font-weight:400;-webkit-text-stroke:0.3px #1a1a1a;">600</div>
<div style="left:1075.7px;top:784.5px;width:1.5px;height:6px;background:#2a2a2a;"></div>
<div class="t" style="left:1016.3px;width:120px;text-align:center;top:791.5px;font-family:'Liberation Mono', monospace;font-size:10.5px;line-height:12px;letter-spacing:0.6px;color:#1a1a1a;font-weight:400;-webkit-text-stroke:0.3px #1a1a1a;">700</div>
<div style="left:1123.0px;top:784.5px;width:1.5px;height:6px;background:#2a2a2a;"></div>
<div class="t" style="left:1063.6px;width:120px;text-align:center;top:791.5px;font-family:'Liberation Mono', monospace;font-size:10.5px;line-height:12px;letter-spacing:0.6px;color:#1a1a1a;font-weight:400;-webkit-text-stroke:0.3px #1a1a1a;">800</div>
<div style="left:1170.2px;top:784.5px;width:1.5px;height:6px;background:#2a2a2a;"></div>
<div class="t" style="left:1110.8px;width:120px;text-align:center;top:791.5px;font-family:'Liberation Mono', monospace;font-size:10.5px;line-height:12px;letter-spacing:0.6px;color:#1a1a1a;font-weight:400;-webkit-text-stroke:0.3px #1a1a1a;">900</div>
<div class="t" style="left:551px;width:120px;text-align:center;top:44.2px;font-size:14px;line-height:14px;color:#1c1c1c;">0 Deg</div>
<div class="t" style="left:551px;width:120px;text-align:center;top:62.2px;font-size:14px;line-height:14px;color:#1c1c1c;">TDC</div>
<div class="t" style="left:635px;width:120px;text-align:center;top:44.2px;font-size:14px;line-height:14px;color:#1c1c1c;">180 Deg</div>
<div class="t" style="left:635px;width:120px;text-align:center;top:62.2px;font-size:14px;line-height:14px;color:#1c1c1c;">BDC</div>
<div class="t" style="left:719px;width:120px;text-align:center;top:44.2px;font-size:14px;line-height:14px;color:#1c1c1c;">360 Deg</div>
<div class="t" style="left:719px;width:120px;text-align:center;top:62.2px;font-size:14px;line-height:14px;color:#1c1c1c;">TDC</div>
<div class="t" style="left:802.5px;width:120px;text-align:center;top:44.2px;font-size:14px;line-height:14px;color:#1c1c1c;">540 Deg</div>
<div class="t" style="left:802.5px;width:120px;text-align:center;top:62.2px;font-size:14px;line-height:14px;color:#1c1c1c;">BDC</div>
<div class="t" style="left:887px;width:120px;text-align:center;top:44.2px;font-size:14px;line-height:14px;color:#1c1c1c;">720 Deg</div>
<div class="t" style="left:887px;width:120px;text-align:center;top:62.2px;font-size:14px;line-height:14px;color:#1c1c1c;">TDC</div>
<svg width="1200" height="812" style="position:absolute;left:0;top:0">
<line x1="521" y1="104.5" x2="598.5" y2="104.5" stroke="#f01010" stroke-width="1.6"/>
<polygon points="611,104.5 596.5,110.0 596.5,99.0" fill="#ff0c0c"/>
<line x1="521" y1="208.5" x2="594.5" y2="208.9" stroke="#f01010" stroke-width="1.6"/>
<polygon points="607,209 592.5,214.4 592.5,203.4" fill="#ff0c0c"/>
<line x1="521" y1="228.7" x2="602.5" y2="228.7" stroke="#f01010" stroke-width="1.6"/>
<polygon points="615,228.7 600.5,234.2 600.5,223.2" fill="#ff0c0c"/>
<line x1="521" y1="325" x2="642.7" y2="344.1" stroke="#f01010" stroke-width="1.6"/>
<polygon points="655,346 639.8,349.2 641.5,338.3" fill="#ff0c0c"/>
<line x1="521" y1="354.5" x2="686.5" y2="354.5" stroke="#f01010" stroke-width="1.6"/>
<polygon points="699,354.5 684.5,360.0 684.5,349.0" fill="#ff0c0c"/>
<line x1="521" y1="372.3" x2="665.0" y2="372.3" stroke="#f01010" stroke-width="1.6"/>
<polygon points="677.5,372.3 663.0,377.8 663.0,366.8" fill="#ff0c0c"/>
<line x1="668" y1="470" x2="690.9" y2="381.1" stroke="#f01010" stroke-width="1.6"/>
<polygon points="694,369 695.7,384.4 685.1,381.7" fill="#ff0c0c"/>
<line x1="730" y1="502" x2="772.6" y2="366.6" stroke="#f01010" stroke-width="1.6"/>
<polygon points="776.4,354.7 777.3,370.2 766.8,366.9" fill="#ff0c0c"/>
<line x1="799.6" y1="427" x2="790.1" y2="379.0" stroke="#f01010" stroke-width="1.6"/>
<polygon points="787.7,366.7 795.9,379.9 785.1,382.0" fill="#ff0c0c"/>
<line x1="1001" y1="306" x2="867.3" y2="370.6" stroke="#f01010" stroke-width="1.6"/>
<polygon points="856,376 866.7,364.7 871.4,374.6" fill="#ff0c0c"/>
<line x1="1003" y1="389" x2="916.1" y2="367.1" stroke="#f01010" stroke-width="1.6"/>
<polygon points="904,364 919.4,362.2 916.7,372.9" fill="#ff0c0c"/>
</svg>
<div style="left:2px;top:0px;width:92px;height:35px;background:#c6c6c6;border-left:2px solid #e0e0e0;border-right:2px solid #8e8e8e;box-sizing:border-box;"></div>
<div class="t" style="left:10px;top:7.35px;font-size:18.5px;line-height:18.5px;color:#121212;font-weight:400;letter-spacing:-0.45px;">Controls</div>
<div style="left:94px;top:1px;width:67px;height:31px;background:#c5c5c5;border-top:2px solid #e2e2e2;border-left:2px solid #e4e4e4;border-right:2px solid #8e8e8e;box-sizing:border-box;border-top-left-radius:3px;"></div>
<div class="t" style="left:104.5px;top:7.35px;font-size:18.5px;line-height:18.5px;color:#121212;font-weight:400;letter-spacing:-0.45px;">Setup</div>
<div style="left:161px;top:1px;width:94px;height:31px;background:#c5c5c5;border-top:2px solid #e2e2e2;border-left:2px solid #e4e4e4;border-right:2px solid #8e8e8e;box-sizing:border-box;border-top-left-radius:3px;"></div>
<div class="t" style="left:172px;top:7.35px;font-size:18.5px;line-height:18.5px;color:#121212;font-weight:400;letter-spacing:-0.45px;">MultiTool</div>
<div style="left:255px;top:1px;width:33px;height:31px;background:#c5c5c5;border-top:2px solid #e2e2e2;border-left:2px solid #e4e4e4;border-right:2px solid #8e8e8e;box-sizing:border-box;border-top-left-radius:3px;"></div>
<div class="t" style="left:265.5px;top:7.35px;font-size:18.5px;line-height:18.5px;color:#121212;font-weight:400;letter-spacing:0px;">?</div>
<div style="left:294px;top:1px;width:184px;height:31px;background:#c5c5c5;border-top:2px solid #e2e2e2;border-left:2px solid #e4e4e4;border-right:2px solid #8e8e8e;box-sizing:border-box;border-top-left-radius:3px;"></div>
<div class="t" style="left:305px;top:4.50px;font-size:19.5px;line-height:19.5px;color:#121212;font-weight:400;letter-spacing:0px;">EMissFireDetector</div>
<div style="left:478px;top:1px;width:140px;height:31px;background:#c5c5c5;border-top:2px solid #e2e2e2;border-left:2px solid #e4e4e4;border-right:2px solid #8e8e8e;box-sizing:border-box;border-top-left-radius:3px;"></div>
<div class="t" style="left:490.5px;top:4.50px;font-size:19.5px;line-height:19.5px;color:#121212;font-weight:400;letter-spacing:0px;">Configuration</div>
<div style="left:618px;top:1px;width:92px;height:31px;background:#c5c5c5;border-top:2px solid #e2e2e2;border-left:2px solid #e4e4e4;border-right:2px solid #8e8e8e;box-sizing:border-box;border-top-left-radius:3px;"></div>
<div class="t" style="left:631.5px;top:4.50px;font-size:19.5px;line-height:19.5px;color:#121212;font-weight:400;letter-spacing:0px;">Misfires</div>
<div style="left:710px;top:0px;width:142px;height:35px;background:#c6c6c6;border-left:2px solid #e0e0e0;border-right:2px solid #8e8e8e;box-sizing:border-box;"></div>
<div class="t" style="left:719px;top:4.50px;font-size:19.5px;line-height:19.5px;color:#121212;font-weight:400;letter-spacing:0px;">Compression</div>
<div style="left:852px;top:1px;width:96px;height:31px;background:#c5c5c5;border-top:2px solid #e2e2e2;border-left:2px solid #e4e4e4;border-right:2px solid #8e8e8e;box-sizing:border-box;border-top-left-radius:3px;"></div>
<div class="t" style="left:862px;top:4.50px;font-size:19.5px;line-height:19.5px;color:#121212;font-weight:400;letter-spacing:0px;">Measure</div>
<div style="left:948px;top:1px;width:83px;height:31px;background:#c5c5c5;border-top:2px solid #e2e2e2;border-left:2px solid #e4e4e4;border-right:2px solid #8e8e8e;box-sizing:border-box;border-top-left-radius:3px;"></div>
<div class="t" style="left:961px;top:4.50px;font-size:19.5px;line-height:19.5px;color:#121212;font-weight:400;letter-spacing:0px;">Report</div>
<div class="t" style="left:715.5px;width:800px;text-align:center;top:6.46px;font-size:16px;line-height:16px;color:#151515;font-weight:400;font-style:italic;">Patented</div>
<div style="left:6px;top:40px;width:276px;height:2px;background:#303030;"></div>
<div class="t" style="left:-258.5px;width:800px;text-align:center;top:42.81px;font-size:15px;line-height:15px;color:#1c1c1c;font-weight:400;"><u style="text-underline-offset:2px;text-decoration-thickness:1px">Camshaft Timing</u></div>
<div style="left:34px;top:59px;width:217px;height:35px;background:#bdb7bd;"></div>
<div style="left:37px;top:62px;width:211px;height:29px;background:radial-gradient(ellipse 45% 40% at 22% 28%, rgba(210,255,180,0.7) 0%, rgba(200,255,170,0) 100%), linear-gradient(170deg,#6cf01c 0%,#60e812 45%,#4cc80c 80%,#3aa808 100%);box-shadow:inset -2px -2px 3px rgba(0,0,0,0.18);"></div>
<div class="t" style="left:-257.5px;width:800px;text-align:center;top:70.20px;font-size:14px;line-height:14px;color:#151515;font-weight:400;letter-spacing:0.65px;">Intake Camshaft Timing</div>
<div style="left:34px;top:93px;width:120px;height:34px;background:#bdb7bd;"></div>
<div style="left:37px;top:96px;width:114px;height:28px;background:radial-gradient(ellipse 45% 40% at 22% 28%, rgba(210,255,180,0.7) 0%, rgba(200,255,170,0) 100%), linear-gradient(170deg,#6cf01c 0%,#60e812 45%,#4cc80c 80%,#3aa808 100%);box-shadow:inset -2px -2px 3px rgba(0,0,0,0.18);"></div>
<div style="left:156px;top:96px;width:62px;height:28px;background:linear-gradient(180deg,#a0a0a0 0%,#b0b0b0 25%,#b8b8b8 70%,#c4c4c4 100%);border-radius:1px;box-shadow:inset 1px 1px 0 #bdbdbd, inset -1px -1px 0 #d0d0d0;"></div>
<div style="left:160px;top:100px;width:55px;height:21px;background:#fff;"></div>
<div class="t" style="left:-212.5px;width:800px;text-align:center;top:103.40px;font-size:14.6px;line-height:14.6px;color:#111;font-weight:400;-webkit-text-stroke:0.05px currentColor;">-5.53</div>
<div class="t" style="left:220px;top:103.16px;font-size:14px;line-height:14px;color:#141414;font-weight:400;">Deg</div>
<div style="left:34px;top:124px;width:217px;height:35px;background:#bdb7bd;"></div>
<div style="left:37px;top:127px;width:211px;height:29px;background:radial-gradient(ellipse 45% 40% at 22% 28%, rgba(255,180,170,0.65) 0%, rgba(255,160,150,0) 100%), linear-gradient(170deg,#ff2418 0%,#fa1410 45%,#dc0a08 80%,#b80404 100%);box-shadow:inset -2px -2px 3px rgba(0,0,0,0.18);"></div>
<div class="t" style="left:-257.5px;width:800px;text-align:center;top:135.20px;font-size:14px;line-height:14px;color:#3a0000;font-weight:400;letter-spacing:0.65px;">Exhaust Camshaft Timing</div>
<div style="left:34px;top:157px;width:120px;height:34px;background:#bdb7bd;"></div>
<div style="left:37px;top:160px;width:114px;height:28px;background:radial-gradient(ellipse 45% 40% at 22% 28%, rgba(255,180,170,0.65) 0%, rgba(255,160,150,0) 100%), linear-gradient(170deg,#ff2418 0%,#fa1410 45%,#dc0a08 80%,#b80404 100%);box-shadow:inset -2px -2px 3px rgba(0,0,0,0.18);"></div>
<div class="t" style="left:-306.0px;width:800px;text-align:center;top:167.70px;font-size:14px;line-height:14px;color:#3a0000;font-weight:400;letter-spacing:0.65px;">Advanced</div>
<div style="left:156px;top:160px;width:62px;height:28px;background:linear-gradient(180deg,#a0a0a0 0%,#b0b0b0 25%,#b8b8b8 70%,#c4c4c4 100%);border-radius:1px;box-shadow:inset 1px 1px 0 #bdbdbd, inset -1px -1px 0 #d0d0d0;"></div>
<div style="left:160px;top:164px;width:55px;height:21px;background:#fff;"></div>
<div class="t" style="left:-212.5px;width:800px;text-align:center;top:167.40px;font-size:14.6px;line-height:14.6px;color:#111;font-weight:400;-webkit-text-stroke:0.05px currentColor;">-23.75</div>
<div class="t" style="left:220px;top:167.16px;font-size:14px;line-height:14px;color:#141414;font-weight:400;">Deg</div>
<div style="left:6px;top:194px;width:276px;height:2px;background:#303030;"></div>
<div class="t" style="left:-258.5px;width:800px;text-align:center;top:195.81px;font-size:15px;line-height:15px;color:#1c1c1c;font-weight:400;"><u style="text-underline-offset:2px;text-decoration-thickness:1px">Ignition Timing</u></div>
<div style="left:34px;top:213px;width:217px;height:34px;background:#bdb7bd;"></div>
<div style="left:37px;top:216px;width:211px;height:28px;background:radial-gradient(ellipse 45% 40% at 22% 28%, rgba(210,255,180,0.7) 0%, rgba(200,255,170,0) 100%), linear-gradient(170deg,#6cf01c 0%,#60e812 45%,#4cc80c 80%,#3aa808 100%);box-shadow:inset -2px -2px 3px rgba(0,0,0,0.18);"></div>
<div class="t" style="left:-257.5px;width:800px;text-align:center;top:223.70px;font-size:14px;line-height:14px;color:#151515;font-weight:400;letter-spacing:0.65px;">Ignition Spark Timing</div>
<div style="left:34px;top:246px;width:120px;height:34px;background:#bdb7bd;"></div>
<div style="left:37px;top:249px;width:114px;height:28px;background:radial-gradient(ellipse 45% 40% at 22% 28%, rgba(210,255,180,0.7) 0%, rgba(200,255,170,0) 100%), linear-gradient(170deg,#6cf01c 0%,#60e812 45%,#4cc80c 80%,#3aa808 100%);box-shadow:inset -2px -2px 3px rgba(0,0,0,0.18);"></div>
<div class="t" style="left:-306.0px;width:800px;text-align:center;top:256.70px;font-size:14px;line-height:14px;color:#151515;font-weight:400;letter-spacing:0.65px;">Advanced</div>
<div style="left:156px;top:249px;width:62px;height:28px;background:linear-gradient(180deg,#a0a0a0 0%,#b0b0b0 25%,#b8b8b8 70%,#c4c4c4 100%);border-radius:1px;box-shadow:inset 1px 1px 0 #bdbdbd, inset -1px -1px 0 #d0d0d0;"></div>
<div style="left:160px;top:253px;width:55px;height:21px;background:#fff;"></div>
<div class="t" style="left:-212.5px;width:800px;text-align:center;top:256.40px;font-size:14.6px;line-height:14.6px;color:#111;font-weight:400;-webkit-text-stroke:0.05px currentColor;">-16.18</div>
<div class="t" style="left:220px;top:256.16px;font-size:14px;line-height:14px;color:#141414;font-weight:400;">Deg</div>
<div style="left:6px;top:281px;width:276px;height:2px;background:#303030;"></div>
<div class="t" style="left:-258.5px;width:800px;text-align:center;top:282.31px;font-size:15px;line-height:15px;color:#1c1c1c;font-weight:400;"><u style="text-underline-offset:2px;text-decoration-thickness:1px">Approximate Idle Compression</u></div>
<div class="t" style="left:-275px;width:800px;text-align:center;top:302.16px;font-size:14px;line-height:14px;color:#141414;font-weight:400;">Actual</div>
<div class="t" style="left:-212px;width:800px;text-align:center;top:302.16px;font-size:14px;line-height:14px;color:#141414;font-weight:400;">Target</div>
<div class="t" style="left:-149px;width:800px;text-align:center;top:302.16px;font-size:14px;line-height:14px;color:#141414;font-weight:400;">% Diff</div>
<div class="t" style="right:1112px;top:325.81px;font-size:15px;line-height:15px;color:#141414;font-weight:400;">Idle Upper</div>
<div style="left:93px;top:319px;width:62px;height:27px;background:linear-gradient(180deg,#a0a0a0 0%,#b0b0b0 25%,#b8b8b8 70%,#c4c4c4 100%);border-radius:1px;box-shadow:inset 1px 1px 0 #bdbdbd, inset -1px -1px 0 #d0d0d0;"></div>
<div style="left:97px;top:323px;width:55px;height:20px;background:#fff;"></div>
<div class="t" style="left:-275.5px;width:800px;text-align:center;top:325.90px;font-size:14.6px;line-height:14.6px;color:#111;font-weight:400;-webkit-text-stroke:0.05px currentColor;">52.59</div>
<div style="left:156px;top:319px;width:62px;height:27px;background:linear-gradient(180deg,#a0a0a0 0%,#b0b0b0 25%,#b8b8b8 70%,#c4c4c4 100%);border-radius:1px;box-shadow:inset 1px 1px 0 #bdbdbd, inset -1px -1px 0 #d0d0d0;"></div>
<div style="left:160px;top:323px;width:55px;height:20px;background:#fff;"></div>
<div class="t" style="left:-212.5px;width:800px;text-align:center;top:325.90px;font-size:14.6px;line-height:14.6px;color:#111;font-weight:400;-webkit-text-stroke:0.05px currentColor;">69.81</div>
<div style="left:219px;top:319px;width:63px;height:27px;background:linear-gradient(180deg,#a0a0a0 0%,#b0b0b0 25%,#b8b8b8 70%,#c4c4c4 100%);border-radius:1px;box-shadow:inset 1px 1px 0 #bdbdbd, inset -1px -1px 0 #d0d0d0;"></div>
<div style="left:223px;top:323px;width:56px;height:20px;background:#ff4034;"></div>
<div class="t" style="left:-149.0px;width:800px;text-align:center;top:325.90px;font-size:14.6px;line-height:14.6px;color:#1a0000;font-weight:400;-webkit-text-stroke:0.05px currentColor;">-24.67</div>
<div class="t" style="right:1112px;top:354.81px;font-size:15px;line-height:15px;color:#141414;font-weight:400;">PSI Based</div>
<div style="left:93px;top:349px;width:62px;height:27px;background:linear-gradient(180deg,#a0a0a0 0%,#b0b0b0 25%,#b8b8b8 70%,#c4c4c4 100%);border-radius:1px;box-shadow:inset 1px 1px 0 #bdbdbd, inset -1px -1px 0 #d0d0d0;"></div>
<div style="left:97px;top:353px;width:55px;height:20px;background:#fff;"></div>
<div class="t" style="left:-275.5px;width:800px;text-align:center;top:355.90px;font-size:14.6px;line-height:14.6px;color:#111;font-weight:400;-webkit-text-stroke:0.05px currentColor;">52.59</div>
<div style="left:156px;top:349px;width:62px;height:27px;background:linear-gradient(180deg,#a0a0a0 0%,#b0b0b0 25%,#b8b8b8 70%,#c4c4c4 100%);border-radius:1px;box-shadow:inset 1px 1px 0 #bdbdbd, inset -1px -1px 0 #d0d0d0;"></div>
<div style="left:160px;top:353px;width:55px;height:20px;background:#fff;"></div>
<div class="t" style="left:-212.5px;width:800px;text-align:center;top:355.90px;font-size:14.6px;line-height:14.6px;color:#111;font-weight:400;-webkit-text-stroke:0.05px currentColor;">66.21</div>
<div style="left:219px;top:349px;width:63px;height:27px;background:linear-gradient(180deg,#a0a0a0 0%,#b0b0b0 25%,#b8b8b8 70%,#c4c4c4 100%);border-radius:1px;box-shadow:inset 1px 1px 0 #bdbdbd, inset -1px -1px 0 #d0d0d0;"></div>
<div style="left:223px;top:353px;width:56px;height:20px;background:#ff4034;"></div>
<div class="t" style="left:-149.0px;width:800px;text-align:center;top:355.90px;font-size:14.6px;line-height:14.6px;color:#1a0000;font-weight:400;-webkit-text-stroke:0.05px currentColor;">-20.58</div>
<div style="left:6px;top:377px;width:276px;height:2px;background:#303030;"></div>
<div class="t" style="left:-258.5px;width:800px;text-align:center;top:378.81px;font-size:15px;line-height:15px;color:#1c1c1c;font-weight:400;"><u style="text-underline-offset:2px;text-decoration-thickness:1px">Expected Compression</u></div>
<div class="t" style="left:-275px;width:800px;text-align:center;top:397.16px;font-size:14px;line-height:14px;color:#141414;font-weight:400;">Actual</div>
<div class="t" style="left:-212px;width:800px;text-align:center;top:397.16px;font-size:14px;line-height:14px;color:#141414;font-weight:400;">Target</div>
<div class="t" style="left:-149px;width:800px;text-align:center;top:397.16px;font-size:14px;line-height:14px;color:#141414;font-weight:400;">% Diff</div>
<div class="t" style="right:1112px;top:420.16px;font-size:14px;line-height:14px;color:#141414;font-weight:400;">Cranking</div>
<div style="left:93px;top:414px;width:63px;height:27px;background:linear-gradient(180deg,#bcbcbc 0%,#c2c2c2 60%,#c8c8c8 100%);border-radius:1px;"></div>
<div style="left:97px;top:418px;width:55px;height:20px;background:#d6d6d6;"></div>
<div class="t" style="left:-275.5px;width:800px;text-align:center;top:420.90px;font-size:14.6px;line-height:14.6px;color:#8a8a8a;font-weight:400;-webkit-text-stroke:0.05px currentColor;">0.00</div>
<div style="left:156px;top:414px;width:63px;height:27px;background:linear-gradient(180deg,#bcbcbc 0%,#c2c2c2 60%,#c8c8c8 100%);border-radius:1px;"></div>
<div style="left:160px;top:418px;width:55px;height:20px;background:#d6d6d6;"></div>
<div class="t" style="left:-212.5px;width:800px;text-align:center;top:420.90px;font-size:14.6px;line-height:14.6px;color:#8a8a8a;font-weight:400;-webkit-text-stroke:0.05px currentColor;">0.00</div>
<div style="left:219px;top:414px;width:64px;height:27px;background:linear-gradient(180deg,#bcbcbc 0%,#c2c2c2 60%,#c8c8c8 100%);border-radius:1px;"></div>
<div style="left:223px;top:418px;width:56px;height:20px;background:#d6d6d6;"></div>
<div class="t" style="left:-149.0px;width:800px;text-align:center;top:420.90px;font-size:14.6px;line-height:14.6px;color:#8a8a8a;font-weight:400;-webkit-text-stroke:0.05px currentColor;">0.00</div>
<div class="t" style="right:1112px;top:448.34px;font-size:12.6px;line-height:12.6px;color:#141414;font-weight:400;">Snap Throttle</div>
<div style="left:93px;top:441px;width:63px;height:27px;background:linear-gradient(180deg,#bcbcbc 0%,#c2c2c2 60%,#c8c8c8 100%);border-radius:1px;"></div>
<div style="left:97px;top:445px;width:55px;height:20px;background:#d6d6d6;"></div>
<div class="t" style="left:-275.5px;width:800px;text-align:center;top:447.90px;font-size:14.6px;line-height:14.6px;color:#8a8a8a;font-weight:400;-webkit-text-stroke:0.05px currentColor;">0.00</div>
<div style="left:156px;top:441px;width:63px;height:27px;background:linear-gradient(180deg,#bcbcbc 0%,#c2c2c2 60%,#c8c8c8 100%);border-radius:1px;"></div>
<div style="left:160px;top:445px;width:55px;height:20px;background:#d6d6d6;"></div>
<div class="t" style="left:-212.5px;width:800px;text-align:center;top:447.90px;font-size:14.6px;line-height:14.6px;color:#8a8a8a;font-weight:400;-webkit-text-stroke:0.05px currentColor;">0.00</div>
<div style="left:219px;top:441px;width:64px;height:27px;background:linear-gradient(180deg,#bcbcbc 0%,#c2c2c2 60%,#c8c8c8 100%);border-radius:1px;"></div>
<div style="left:223px;top:445px;width:56px;height:20px;background:#d6d6d6;"></div>
<div class="t" style="left:-149.0px;width:800px;text-align:center;top:447.90px;font-size:14.6px;line-height:14.6px;color:#8a8a8a;font-weight:400;-webkit-text-stroke:0.05px currentColor;">0.00</div>
<div class="t" style="right:1112px;top:476.16px;font-size:14px;line-height:14px;color:#141414;font-weight:400;">Exhaust</div>
<div style="left:93px;top:470px;width:63px;height:27px;background:linear-gradient(180deg,#bcbcbc 0%,#c2c2c2 60%,#c8c8c8 100%);border-radius:1px;"></div>
<div style="left:97px;top:474px;width:55px;height:20px;background:#d6d6d6;"></div>
<div class="t" style="left:-275.5px;width:800px;text-align:center;top:476.90px;font-size:14.6px;line-height:14.6px;color:#8a8a8a;font-weight:400;-webkit-text-stroke:0.05px currentColor;">0.00</div>
<div class="t" style="left:158px;top:476.16px;font-size:14px;line-height:14px;color:#141414;font-weight:400;">Back Pressure</div>
<div style="left:6px;top:499px;width:276px;height:2px;background:#303030;"></div>
<div class="t" style="left:10.5px;top:507.81px;font-size:15px;line-height:15px;color:#141414;font-weight:400;"><u style="text-underline-offset:2px">Vacuum</u></div>
<div class="t" style="right:1014px;top:508.39px;font-size:14.9px;line-height:14.9px;color:#141414;font-weight:400;">Intake Manifold</div>
<div style="left:188px;top:504px;width:62px;height:27px;background:linear-gradient(180deg,#a0a0a0 0%,#b0b0b0 25%,#b8b8b8 70%,#c4c4c4 100%);border-radius:1px;box-shadow:inset 1px 1px 0 #bdbdbd, inset -1px -1px 0 #d0d0d0;"></div>
<div style="left:192px;top:508px;width:55px;height:20px;background:#fff;"></div>
<div class="t" style="left:-180.5px;width:800px;text-align:center;top:510.90px;font-size:14.6px;line-height:14.6px;color:#111;font-weight:400;-webkit-text-stroke:0.05px currentColor;">51.62</div>
<div class="t" style="left:253px;top:509.16px;font-size:14px;line-height:14px;color:#141414;font-weight:400;">Hg</div>
<div class="t" style="right:1014px;top:535.39px;font-size:14.9px;line-height:14.9px;color:#141414;font-weight:400;">In Cylinder</div>
<div style="left:188px;top:530px;width:62px;height:27px;background:linear-gradient(180deg,#a0a0a0 0%,#b0b0b0 25%,#b8b8b8 70%,#c4c4c4 100%);border-radius:1px;box-shadow:inset 1px 1px 0 #bdbdbd, inset -1px -1px 0 #d0d0d0;"></div>
<div style="left:192px;top:534px;width:55px;height:20px;background:#fff;"></div>
<div class="t" style="left:-180.5px;width:800px;text-align:center;top:536.90px;font-size:14.6px;line-height:14.6px;color:#111;font-weight:400;-webkit-text-stroke:0.05px currentColor;">15.73</div>
<div class="t" style="left:253px;top:536.16px;font-size:14px;line-height:14px;color:#141414;font-weight:400;">Hg</div>
<div class="t" style="right:1014px;top:562.39px;font-size:14.9px;line-height:14.9px;color:#141414;font-weight:400;">% Diff from Target</div>
<div style="left:188px;top:557px;width:62px;height:27px;background:linear-gradient(180deg,#a0a0a0 0%,#b0b0b0 25%,#b8b8b8 70%,#c4c4c4 100%);border-radius:1px;box-shadow:inset 1px 1px 0 #bdbdbd, inset -1px -1px 0 #d0d0d0;"></div>
<div style="left:192px;top:561px;width:55px;height:20px;background:#ff4034;"></div>
<div class="t" style="left:-180.5px;width:800px;text-align:center;top:563.90px;font-size:14.6px;line-height:14.6px;color:#1a0000;font-weight:400;-webkit-text-stroke:0.05px currentColor;">-69.5</div>
<div style="left:34px;top:583px;width:216px;height:34px;background:#bdb7bd;"></div>
<div style="left:37px;top:586px;width:210px;height:28px;background:radial-gradient(ellipse 45% 40% at 22% 28%, rgba(255,180,170,0.65) 0%, rgba(255,160,150,0) 100%), linear-gradient(170deg,#ff2418 0%,#fa1410 45%,#dc0a08 80%,#b80404 100%);box-shadow:inset -2px -2px 3px rgba(0,0,0,0.18);"></div>
<div class="t" style="left:-258.0px;width:800px;text-align:center;top:593.70px;font-size:14px;line-height:14px;color:#3a0000;font-weight:400;letter-spacing:0.65px;">Engine Vacuum HIGH</div>
<div style="left:6px;top:620px;width:276px;height:2px;background:#303030;"></div>
<div class="t" style="left:-258.5px;width:800px;text-align:center;top:623.31px;font-size:15px;line-height:15px;color:#1c1c1c;font-weight:400;"><u style="text-underline-offset:2px;text-decoration-thickness:1px">Conclusions</u></div>
<div style="left:6px;top:641px;width:275px;height:92px;background:#989898;"></div>
<div style="left:14px;top:649px;width:260px;height:76px;background:#fff;"></div>
<div style="left:253px;top:652px;width:20px;height:70px;background:#f2f2f2;"></div>
<div class="t" style="left:18px;top:653.73px;font-size:14.5px;line-height:14.5px;color:#1a1a1a;font-weight:400;">Conclusions are not yet active.</div>
<svg width="1200" height="812" style="position:absolute;left:0;top:0"><path d="M258.5 663 L262.5 659 L266.5 663" fill="none" stroke="#222" stroke-width="1.6"/><path d="M258 711.5 L267 711.5 L262.5 715.5 Z" fill="#222"/></svg>
<div style="left:41px;top:743px;width:210px;height:30px;background:linear-gradient(180deg,#d6d6d6 0%,#c8c8c8 50%,#b6b6b6 100%);border:1px solid #3a3a3a;box-sizing:border-box;box-shadow:inset 2px 2px 0 #e4e4e4, inset -2px -2px 2px #8a8a8a;"></div>
<div class="t" style="left:-254.0px;width:800px;text-align:center;top:747.77px;font-size:19px;line-height:19px;color:#1040d8;font-weight:700;letter-spacing:0.4px;">Save Screen (F11)</div>
<div style="left:41px;top:772px;width:210px;height:30px;background:linear-gradient(180deg,#d6d6d6 0%,#c8c8c8 50%,#b6b6b6 100%);border:1px solid #3a3a3a;box-sizing:border-box;box-shadow:inset 2px 2px 0 #e4e4e4, inset -2px -2px 2px #8a8a8a;"></div>
<div class="t" style="left:-254.0px;width:800px;text-align:center;top:776.77px;font-size:19px;line-height:19px;color:#1040d8;font-weight:700;letter-spacing:0.4px;">Print Screen (F12)</div>
<div style="left:258px;top:776px;width:22px;height:25px;background:linear-gradient(180deg,#fffff4,#f2edc4);border:1.6px solid #2c2c2c;box-sizing:border-box;"></div>
<div class="t" style="left:-131.0px;width:800px;text-align:center;top:778.77px;font-size:18px;line-height:18px;color:#1030c8;font-weight:700;">?</div>
<div style="left:295px;top:37px;width:22px;height:26px;background:linear-gradient(180deg,#fffff4,#f2edc4);border:1.6px solid #2c2c2c;box-sizing:border-box;"></div>
<div class="t" style="left:-94.0px;width:800px;text-align:center;top:40.27px;font-size:18px;line-height:18px;color:#1030c8;font-weight:700;">?</div>
<div style="left:462px;top:63px;width:62px;height:27px;background:linear-gradient(180deg,#a0a0a0 0%,#b0b0b0 25%,#b8b8b8 70%,#c4c4c4 100%);border-radius:1px;box-shadow:inset 1px 1px 0 #bdbdbd, inset -1px -1px 0 #d0d0d0;"></div>
<div style="left:466px;top:67px;width:55px;height:20px;background:#fff;"></div>
<div class="t" style="left:93.5px;width:800px;text-align:center;top:69.90px;font-size:14.6px;line-height:14.6px;color:#111;font-weight:400;-webkit-text-stroke:0.05px currentColor;">573.6</div>
<div class="t" style="right:739.5px;top:69.16px;font-size:14px;line-height:14px;color:#141414;font-weight:400;">RPM Calc from CAM</div>
<div style="left:462px;top:91px;width:62px;height:27px;background:linear-gradient(180deg,#a0a0a0 0%,#b0b0b0 25%,#b8b8b8 70%,#c4c4c4 100%);border-radius:1px;box-shadow:inset 1px 1px 0 #bdbdbd, inset -1px -1px 0 #d0d0d0;"></div>
<div style="left:466px;top:95px;width:55px;height:20px;background:#fff;"></div>
<div class="t" style="left:93.5px;width:800px;text-align:center;top:97.90px;font-size:14.6px;line-height:14.6px;color:#111;font-weight:400;-webkit-text-stroke:0.05px currentColor;">52.59</div>
<div class="t" style="right:739.5px;top:96.82px;font-size:14.4px;line-height:14.4px;color:#141414;font-weight:400;">PSI@Max</div>
<div class="t" style="right:722px;top:122.82px;font-size:14.4px;line-height:14.4px;color:#141414;font-weight:400;">Cranking PSI &lt; 90PSI</div>
<div style="left:485.0px;top:121.5px;width:19px;height:19px;border-radius:50%;background:#e6e6e6;"></div>
<div style="left:483.0px;top:119.5px;width:19px;height:19px;border-radius:50%;background:radial-gradient(circle at 40% 35%, #a8ff80 0%, #62e61e 35%, #44c80c 75%, #2f9a08 100%);"></div>
<div class="t" style="right:722px;top:145.82px;font-size:14.4px;line-height:14.4px;color:#141414;font-weight:400;">Idle PSI &lt; 43PSI</div>
<div style="left:485.0px;top:144.5px;width:19px;height:19px;border-radius:50%;background:#e6e6e6;"></div>
<div style="left:483.0px;top:142.5px;width:19px;height:19px;border-radius:50%;background:radial-gradient(circle at 40% 35%, #a8ff80 0%, #62e61e 35%, #44c80c 75%, #2f9a08 100%);"></div>
<div style="left:462px;top:192px;width:62px;height:27px;background:linear-gradient(180deg,#a0a0a0 0%,#b0b0b0 25%,#b8b8b8 70%,#c4c4c4 100%);border-radius:1px;box-shadow:inset 1px 1px 0 #bdbdbd, inset -1px -1px 0 #d0d0d0;"></div>
<div style="left:466px;top:196px;width:55px;height:20px;background:#fff;"></div>
<div class="t" style="left:93.5px;width:800px;text-align:center;top:198.90px;font-size:14.6px;line-height:14.6px;color:#111;font-weight:400;-webkit-text-stroke:0.05px currentColor;">28.21</div>
<div class="t" style="right:739.5px;top:198.82px;font-size:14.4px;line-height:14.4px;color:#141414;font-weight:400;">DegLeftFWHM</div>
<div style="left:462px;top:220px;width:62px;height:27px;background:linear-gradient(180deg,#a0a0a0 0%,#b0b0b0 25%,#b8b8b8 70%,#c4c4c4 100%);border-radius:1px;box-shadow:inset 1px 1px 0 #bdbdbd, inset -1px -1px 0 #d0d0d0;"></div>
<div style="left:466px;top:224px;width:55px;height:20px;background:#fff;"></div>
<div class="t" style="left:93.5px;width:800px;text-align:center;top:226.90px;font-size:14.6px;line-height:14.6px;color:#111;font-weight:400;-webkit-text-stroke:0.05px currentColor;">29.08</div>
<div class="t" style="right:739.5px;top:226.82px;font-size:14.4px;line-height:14.4px;color:#141414;font-weight:400;">DegRightFWHM</div>
<div style="left:462px;top:248px;width:62px;height:27px;background:linear-gradient(180deg,#a0a0a0 0%,#b0b0b0 25%,#b8b8b8 70%,#c4c4c4 100%);border-radius:1px;box-shadow:inset 1px 1px 0 #bdbdbd, inset -1px -1px 0 #d0d0d0;"></div>
<div style="left:466px;top:252px;width:55px;height:20px;background:#fff;"></div>
<div class="t" style="left:93.5px;width:800px;text-align:center;top:254.90px;font-size:14.6px;line-height:14.6px;color:#111;font-weight:400;-webkit-text-stroke:0.05px currentColor;">-3.08</div>
<div class="t" style="right:739.5px;top:253.82px;font-size:14.4px;line-height:14.4px;color:#141414;font-weight:400;">FWHM%Diff</div>
<div class="t" style="right:722px;top:280.82px;font-size:14.4px;line-height:14.4px;color:#141414;font-weight:400;">FWHMError (&gt;20%)</div>
<div style="left:485.0px;top:279.5px;width:19px;height:19px;border-radius:50%;background:#e6e6e6;"></div>
<div style="left:483.0px;top:277.5px;width:19px;height:19px;border-radius:50%;background:radial-gradient(circle at 40% 35%, #a8ff80 0%, #62e61e 35%, #44c80c 75%, #2f9a08 100%);"></div>
<div style="left:462px;top:309px;width:62px;height:27px;background:linear-gradient(180deg,#a0a0a0 0%,#b0b0b0 25%,#b8b8b8 70%,#c4c4c4 100%);border-radius:1px;box-shadow:inset 1px 1px 0 #bdbdbd, inset -1px -1px 0 #d0d0d0;"></div>
<div style="left:466px;top:313px;width:55px;height:20px;background:#fff;"></div>
<div class="t" style="left:93.5px;width:800px;text-align:center;top:315.90px;font-size:14.6px;line-height:14.6px;color:#111;font-weight:400;-webkit-text-stroke:0.05px currentColor;">2.67</div>
<div class="t" style="right:739.5px;top:315.82px;font-size:14.4px;line-height:14.4px;color:#141414;font-weight:400;">PSI@90 (CompFall)</div>
<div style="left:462px;top:334px;width:62px;height:27px;background:linear-gradient(180deg,#a0a0a0 0%,#b0b0b0 25%,#b8b8b8 70%,#c4c4c4 100%);border-radius:1px;box-shadow:inset 1px 1px 0 #bdbdbd, inset -1px -1px 0 #d0d0d0;"></div>
<div style="left:466px;top:338px;width:55px;height:20px;background:#fff;"></div>
<div class="t" style="left:93.5px;width:800px;text-align:center;top:340.90px;font-size:14.6px;line-height:14.6px;color:#111;font-weight:400;-webkit-text-stroke:0.05px currentColor;">8.17</div>
<div class="t" style="right:739.5px;top:339.82px;font-size:14.4px;line-height:14.4px;color:#141414;font-weight:400;">PSI@ExhMed</div>
<div style="left:462px;top:364px;width:62px;height:27px;background:linear-gradient(180deg,#a0a0a0 0%,#b0b0b0 25%,#b8b8b8 70%,#c4c4c4 100%);border-radius:1px;box-shadow:inset 1px 1px 0 #bdbdbd, inset -1px -1px 0 #d0d0d0;"></div>
<div style="left:466px;top:368px;width:55px;height:20px;background:#fff;"></div>
<div class="t" style="left:93.5px;width:800px;text-align:center;top:370.90px;font-size:14.6px;line-height:14.6px;color:#111;font-weight:400;-webkit-text-stroke:0.05px currentColor;">0.56</div>
<div class="t" style="right:739.5px;top:369.82px;font-size:14.4px;line-height:14.4px;color:#141414;font-weight:400;">PSI@Min</div>
<div style="left:462px;top:389px;width:62px;height:27px;background:linear-gradient(180deg,#a0a0a0 0%,#b0b0b0 25%,#b8b8b8 70%,#c4c4c4 100%);border-radius:1px;box-shadow:inset 1px 1px 0 #bdbdbd, inset -1px -1px 0 #d0d0d0;"></div>
<div style="left:466px;top:393px;width:55px;height:20px;background:#fff;"></div>
<div class="t" style="left:93.5px;width:800px;text-align:center;top:395.90px;font-size:14.6px;line-height:14.6px;color:#111;font-weight:400;-webkit-text-stroke:0.05px currentColor;">127.34</div>
<div class="t" style="right:739.5px;top:394.82px;font-size:14.4px;line-height:14.4px;color:#141414;font-weight:400;">Deg@Min</div>
<div style="left:462px;top:415px;width:62px;height:27px;background:linear-gradient(180deg,#a0a0a0 0%,#b0b0b0 25%,#b8b8b8 70%,#c4c4c4 100%);border-radius:1px;box-shadow:inset 1px 1px 0 #bdbdbd, inset -1px -1px 0 #d0d0d0;"></div>
<div style="left:466px;top:419px;width:55px;height:20px;background:#fff;"></div>
<div class="t" style="left:93.5px;width:800px;text-align:center;top:421.90px;font-size:14.6px;line-height:14.6px;color:#111;font-weight:400;-webkit-text-stroke:0.05px currentColor;">-15.16</div>
<div class="t" style="right:739.5px;top:420.82px;font-size:14.4px;line-height:14.4px;color:#141414;font-weight:400;">Deg from 142.5 ExhOpen</div>
<div class="t" style="right:723px;top:446.82px;font-size:14.4px;line-height:14.4px;color:#141414;font-weight:400;">ExhOpenNot130-155</div>
<div style="left:484.0px;top:446.0px;width:19px;height:19px;border-radius:50%;background:#e6e6e6;"></div>
<div style="left:482.0px;top:444.0px;width:19px;height:19px;border-radius:50%;background:radial-gradient(circle at 40% 35%, #ffffa0 0%, #f8f000 40%, #e0d000 75%, #a09000 100%);"></div>
<div class="t" style="right:556px;top:426.82px;font-size:14.4px;line-height:14.4px;color:#141414;font-weight:400;">Advanced (&lt;-19)</div>
<div style="left:650.5px;top:425.5px;width:19px;height:19px;border-radius:50%;background:#e6e6e6;"></div>
<div style="left:648.5px;top:423.5px;width:19px;height:19px;border-radius:50%;background:radial-gradient(circle at 40% 35%, #ff9a90 0%, #f01010 40%, #d00000 75%, #900000 100%);"></div>
<div class="t" style="right:556px;top:449.82px;font-size:14.4px;line-height:14.4px;color:#141414;font-weight:400;">Retarded (&gt;+10)</div>
<div style="left:650.5px;top:448.5px;width:19px;height:19px;border-radius:50%;background:#e6e6e6;"></div>
<div style="left:648.5px;top:446.5px;width:19px;height:19px;border-radius:50%;background:radial-gradient(circle at 40% 35%, #a8ff80 0%, #62e61e 35%, #44c80c 75%, #2f9a08 100%);"></div>
<div style="left:627px;top:469px;width:62px;height:27px;background:linear-gradient(180deg,#a0a0a0 0%,#b0b0b0 25%,#b8b8b8 70%,#c4c4c4 100%);border-radius:1px;box-shadow:inset 1px 1px 0 #bdbdbd, inset -1px -1px 0 #d0d0d0;"></div>
<div style="left:631px;top:473px;width:55px;height:20px;background:#fff;"></div>
<div class="t" style="left:258.5px;width:800px;text-align:center;top:475.90px;font-size:14.6px;line-height:14.6px;color:#111;font-weight:400;-webkit-text-stroke:0.05px currentColor;">-23.07</div>
<div class="t" style="right:575px;top:475.03px;font-size:14.15px;line-height:14.15px;color:#141414;font-weight:400;">DegRet/Adv (+ve=Retarded, -ve=Advanced)</div>
<div style="left:627px;top:498px;width:62px;height:27px;background:linear-gradient(180deg,#a0a0a0 0%,#b0b0b0 25%,#b8b8b8 70%,#c4c4c4 100%);border-radius:1px;box-shadow:inset 1px 1px 0 #bdbdbd, inset -1px -1px 0 #d0d0d0;"></div>
<div style="left:631px;top:502px;width:55px;height:20px;background:#fff;"></div>
<div class="t" style="left:258.5px;width:800px;text-align:center;top:504.90px;font-size:14.6px;line-height:14.6px;color:#111;font-weight:400;-webkit-text-stroke:0.05px currentColor;">156.93</div>
<div class="t" style="right:575px;top:503.82px;font-size:14.4px;line-height:14.4px;color:#141414;font-weight:400;">Deg@MidExhRise</div>
<div style="left:707px;top:498px;width:62px;height:27px;background:linear-gradient(180deg,#a0a0a0 0%,#b0b0b0 25%,#b8b8b8 70%,#c4c4c4 100%);border-radius:1px;box-shadow:inset 1px 1px 0 #bdbdbd, inset -1px -1px 0 #d0d0d0;"></div>
<div style="left:711px;top:502px;width:55px;height:20px;background:#fff;"></div>
<div class="t" style="left:338.5px;width:800px;text-align:center;top:504.90px;font-size:14.6px;line-height:14.6px;color:#111;font-weight:400;-webkit-text-stroke:0.05px currentColor;">8.63</div>
<div class="t" style="left:770px;top:503.82px;font-size:14.4px;line-height:14.4px;color:#141414;font-weight:400;">PSI@360TDC</div>
<div style="left:778px;top:398px;width:62px;height:27px;background:linear-gradient(180deg,#a0a0a0 0%,#b0b0b0 25%,#b8b8b8 70%,#c4c4c4 100%);border-radius:1px;box-shadow:inset 1px 1px 0 #bdbdbd, inset -1px -1px 0 #d0d0d0;"></div>
<div style="left:782px;top:402px;width:55px;height:20px;background:#fff;"></div>
<div class="t" style="left:409.5px;width:800px;text-align:center;top:404.90px;font-size:14.6px;line-height:14.6px;color:#111;font-weight:400;-webkit-text-stroke:0.05px currentColor;">375.72</div>
<div class="t" style="left:842px;top:403.82px;font-size:14.4px;line-height:14.4px;color:#141414;font-weight:400;">Deg@MidIntakeFall</div>
<div style="left:778px;top:427px;width:62px;height:27px;background:linear-gradient(180deg,#a0a0a0 0%,#b0b0b0 25%,#b8b8b8 70%,#c4c4c4 100%);border-radius:1px;box-shadow:inset 1px 1px 0 #bdbdbd, inset -1px -1px 0 #d0d0d0;"></div>
<div style="left:782px;top:431px;width:55px;height:20px;background:#fff;"></div>
<div class="t" style="left:409.5px;width:800px;text-align:center;top:433.90px;font-size:14.6px;line-height:14.6px;color:#111;font-weight:400;-webkit-text-stroke:0.05px currentColor;">-4.28</div>
<div class="t" style="left:842px;top:432.82px;font-size:14.4px;line-height:14.4px;color:#141414;font-weight:400;">DegMidIntakeFall from TDC+20</div>
<div style="left:800.5px;top:459.0px;width:19px;height:19px;border-radius:50%;background:#e6e6e6;"></div>
<div style="left:798.5px;top:457.0px;width:19px;height:19px;border-radius:50%;background:radial-gradient(circle at 40% 35%, #a8ff80 0%, #62e61e 35%, #44c80c 75%, #2f9a08 100%);"></div>
<div class="t" style="left:821.5px;top:459.82px;font-size:14.4px;line-height:14.4px;color:#141414;font-weight:400;">Intake Advanced (&lt;-10)</div>
<div style="left:800.5px;top:481.5px;width:19px;height:19px;border-radius:50%;background:#e6e6e6;"></div>
<div style="left:798.5px;top:479.5px;width:19px;height:19px;border-radius:50%;background:radial-gradient(circle at 40% 35%, #a8ff80 0%, #62e61e 35%, #44c80c 75%, #2f9a08 100%);"></div>
<div class="t" style="left:821.5px;top:482.82px;font-size:14.4px;line-height:14.4px;color:#141414;font-weight:400;">Intake Retarded (&gt;+10)</div>
<div style="left:1008px;top:470px;width:146px;height:42px;background:linear-gradient(180deg,#d6d6d6 0%,#c8c8c8 50%,#b6b6b6 100%);border:1px solid #3a3a3a;box-sizing:border-box;box-shadow:inset 2px 2px 0 #e4e4e4, inset -2px -2px 2px #8a8a8a;"></div>
<div class="t" style="left:681.0px;width:800px;text-align:center;top:480.77px;font-size:19px;line-height:19px;color:#1040d8;font-weight:700;letter-spacing:0.4px;">Pause</div>
<div class="t" style="left:994px;top:96.16px;font-size:14px;line-height:14px;color:#141414;font-weight:400;">Data in this graph shows</div>
<div class="t" style="left:994px;top:112.66px;font-size:14px;line-height:14px;color:#141414;font-weight:400;">locations of calculations only.</div>
<div class="t" style="left:994px;top:149.16px;font-size:14px;line-height:14px;color:#141414;font-weight:400;">Below graph shows actual data.</div>
<div style="left:1000px;top:215px;width:62px;height:27px;background:linear-gradient(180deg,#a0a0a0 0%,#b0b0b0 25%,#b8b8b8 70%,#c4c4c4 100%);border-radius:1px;box-shadow:inset 1px 1px 0 #bdbdbd, inset -1px -1px 0 #d0d0d0;"></div>
<div style="left:1004px;top:219px;width:55px;height:20px;background:#fff;"></div>
<div class="t" style="left:631.5px;width:800px;text-align:center;top:221.90px;font-size:14.6px;line-height:14.6px;color:#111;font-weight:400;-webkit-text-stroke:0.05px currentColor;">0.98</div>
<div class="t" style="left:1064px;top:221.32px;font-size:14.4px;line-height:14.4px;color:#141414;font-weight:400;">PSI1stMin-2ndMin</div>
<div style="left:1004.25px;top:249.25px;width:17.5px;height:17.5px;border-radius:50%;background:#e6e6e6;"></div>
<div style="left:1002.25px;top:247.25px;width:17.5px;height:17.5px;border-radius:50%;background:radial-gradient(circle at 40% 35%, #a8ff80 0%, #62e61e 35%, #44c80c 75%, #2f9a08 100%);"></div>
<div class="t" style="left:1025px;top:249.82px;font-size:14.4px;line-height:14.4px;color:#141414;font-weight:400;">|PSIMin1st-2nd| OK (&lt;2)</div>
<div style="left:1000px;top:281px;width:62px;height:27px;background:linear-gradient(180deg,#a0a0a0 0%,#b0b0b0 25%,#b8b8b8 70%,#c4c4c4 100%);border-radius:1px;box-shadow:inset 1px 1px 0 #bdbdbd, inset -1px -1px 0 #d0d0d0;"></div>
<div style="left:1004px;top:285px;width:55px;height:20px;background:#fff;"></div>
<div class="t" style="left:631.5px;width:800px;text-align:center;top:287.90px;font-size:14.6px;line-height:14.6px;color:#111;font-weight:400;-webkit-text-stroke:0.05px currentColor;">-0.41</div>
<div class="t" style="left:1064px;top:286.82px;font-size:14.4px;line-height:14.4px;color:#141414;font-weight:400;">PSI@MinAfterExh</div>
<div style="left:1000px;top:308px;width:62px;height:27px;background:linear-gradient(180deg,#a0a0a0 0%,#b0b0b0 25%,#b8b8b8 70%,#c4c4c4 100%);border-radius:1px;box-shadow:inset 1px 1px 0 #bdbdbd, inset -1px -1px 0 #d0d0d0;"></div>
<div style="left:1004px;top:312px;width:55px;height:20px;background:#fff;"></div>
<div class="t" style="left:631.5px;width:800px;text-align:center;top:314.90px;font-size:14.6px;line-height:14.6px;color:#111;font-weight:400;-webkit-text-stroke:0.05px currentColor;">575.97</div>
<div class="t" style="left:1064px;top:314.82px;font-size:14.4px;line-height:14.4px;color:#141414;font-weight:400;">Deg@MinAfterExh</div>
<div style="left:1004.25px;top:344.25px;width:17.5px;height:17.5px;border-radius:50%;background:#e6e6e6;"></div>
<div style="left:1002.25px;top:342.25px;width:17.5px;height:17.5px;border-radius:50%;background:radial-gradient(circle at 40% 35%, #a8ff80 0%, #62e61e 35%, #44c80c 75%, #2f9a08 100%);"></div>
<div class="t" style="left:1025px;top:344.82px;font-size:14.4px;line-height:14.4px;color:#141414;font-weight:400;">Intake &lt; Exhaust PSI</div>
<div style="left:1000px;top:379px;width:62px;height:27px;background:linear-gradient(180deg,#a0a0a0 0%,#b0b0b0 25%,#b8b8b8 70%,#c4c4c4 100%);border-radius:1px;box-shadow:inset 1px 1px 0 #bdbdbd, inset -1px -1px 0 #d0d0d0;"></div>
<div style="left:1004px;top:383px;width:55px;height:20px;background:#fff;"></div>
<div class="t" style="left:631.5px;width:800px;text-align:center;top:385.90px;font-size:14.6px;line-height:14.6px;color:#111;font-weight:400;-webkit-text-stroke:0.05px currentColor;">1.97</div>
<div class="t" style="left:1064px;top:384.82px;font-size:14.4px;line-height:14.4px;color:#141414;font-weight:400;">PSI@630-PSI@540</div>
<div style="left:489px;top:531px;width:704px;height:2px;background:#9a9a9a;"></div>
<div style="left:489px;top:533px;width:704px;height:1px;background:#e2e2e2;"></div>
<div style="left:297px;top:490px;width:193px;height:62px;background:linear-gradient(180deg,#c2c2c2,#bababa);border:2px solid #2e2e2e;box-sizing:border-box;"></div>
<div style="left:302.75px;top:493.95px;width:17.5px;height:17.5px;border-radius:50%;background:#e6e6e6;"></div>
<div style="left:300.75px;top:491.95px;width:17.5px;height:17.5px;border-radius:50%;background:radial-gradient(circle at 40% 35%, #a8ff80 0%, #62e61e 35%, #44c80c 75%, #2f9a08 100%);"></div>
<div class="t" style="left:322.5px;top:494.82px;font-size:14.4px;line-height:14.4px;color:#141414;font-weight:400;">Ch2 (Ig Pickup) OK</div>
<div style="left:302.75px;top:514.35px;width:17.5px;height:17.5px;border-radius:50%;background:#e6e6e6;"></div>
<div style="left:300.75px;top:512.35px;width:17.5px;height:17.5px;border-radius:50%;background:radial-gradient(circle at 40% 35%, #a8ff80 0%, #62e61e 35%, #44c80c 75%, #2f9a08 100%);"></div>
<div class="t" style="left:322.5px;top:515.32px;font-size:14.4px;line-height:14.4px;color:#141414;font-weight:400;">Ch3 (Compr) OK</div>
<div style="left:302.75px;top:534.85px;width:17.5px;height:17.5px;border-radius:50%;background:#e6e6e6;"></div>
<div style="left:300.75px;top:532.85px;width:17.5px;height:17.5px;border-radius:50%;background:radial-gradient(circle at 40% 35%, #a8ff80 0%, #62e61e 35%, #44c80c 75%, #2f9a08 100%);"></div>
<div class="t" style="left:322.5px;top:535.82px;font-size:14.4px;line-height:14.4px;color:#141414;font-weight:400;">Ch4 (Vacuum) OK</div>
<div style="left:440px;top:492px;width:49px;height:25px;background:linear-gradient(180deg,#dadada,#c0c0c0);border-right:2px solid #7a7a7a;border-bottom:2px solid #7a7a7a;border-left:1px solid #eee;border-top:1px solid #eee;box-sizing:border-box;"></div>
<div class="t" style="left:65px;width:800px;text-align:center;top:498.00px;font-size:13px;line-height:13px;color:#1848d0;font-weight:400;">Check</div>
<div class="t" style="right:613px;top:551.82px;font-size:14.4px;line-height:14.4px;color:#141414;font-weight:400;">(Below values only apply to live data)</div>
<div style="left:506px;top:575px;width:61px;height:28px;background:linear-gradient(180deg,#a0a0a0 0%,#b0b0b0 25%,#b8b8b8 70%,#c4c4c4 100%);border-radius:1px;box-shadow:inset 1px 1px 0 #bdbdbd, inset -1px -1px 0 #d0d0d0;"></div>
<div style="left:510px;top:579px;width:54px;height:21px;background:#fff;"></div>
<div class="t" style="left:137.0px;width:800px;text-align:center;top:582.40px;font-size:14.6px;line-height:14.6px;color:#111;font-weight:400;-webkit-text-stroke:0.05px currentColor;">0.00</div>
<div class="t" style="right:696px;top:581.82px;font-size:14.4px;line-height:14.4px;color:#141414;font-weight:400;">Snap RPM PSI Change</div>
<div style="left:572.0px;top:581.5px;width:20px;height:20px;border-radius:50%;background:#e6e6e6;"></div>
<div style="left:570.0px;top:579.5px;width:20px;height:20px;border-radius:50%;background:radial-gradient(circle at 40% 35%, #a8ff80 0%, #62e61e 35%, #44c80c 75%, #2f9a08 100%);"></div>
<div style="left:506px;top:611px;width:61px;height:28px;background:linear-gradient(180deg,#a0a0a0 0%,#b0b0b0 25%,#b8b8b8 70%,#c4c4c4 100%);border-radius:1px;box-shadow:inset 1px 1px 0 #bdbdbd, inset -1px -1px 0 #d0d0d0;"></div>
<div style="left:510px;top:615px;width:54px;height:21px;background:#fff;"></div>
<div class="t" style="left:137.0px;width:800px;text-align:center;top:618.40px;font-size:14.6px;line-height:14.6px;color:#111;font-weight:400;-webkit-text-stroke:0.05px currentColor;">0.00</div>
<div class="t" style="right:696px;top:617.82px;font-size:14.4px;line-height:14.4px;color:#141414;font-weight:400;">RPM Idle Variation %</div>
<div style="left:572.0px;top:617.5px;width:20px;height:20px;border-radius:50%;background:#e6e6e6;"></div>
<div style="left:570.0px;top:615.5px;width:20px;height:20px;border-radius:50%;background:radial-gradient(circle at 40% 35%, #a8ff80 0%, #62e61e 35%, #44c80c 75%, #2f9a08 100%);"></div>
<div style="left:506px;top:647px;width:61px;height:28px;background:linear-gradient(180deg,#a0a0a0 0%,#b0b0b0 25%,#b8b8b8 70%,#c4c4c4 100%);border-radius:1px;box-shadow:inset 1px 1px 0 #bdbdbd, inset -1px -1px 0 #d0d0d0;"></div>
<div style="left:510px;top:651px;width:54px;height:21px;background:#fff;"></div>
<div class="t" style="left:137.0px;width:800px;text-align:center;top:654.40px;font-size:14.6px;line-height:14.6px;color:#111;font-weight:400;-webkit-text-stroke:0.05px currentColor;">0.00</div>
<div class="t" style="right:696px;top:653.82px;font-size:14.4px;line-height:14.4px;color:#141414;font-weight:400;">RPM HIgh Idle Variation %</div>
<div style="left:572.0px;top:653.5px;width:20px;height:20px;border-radius:50%;background:#e6e6e6;"></div>
<div style="left:570.0px;top:651.5px;width:20px;height:20px;border-radius:50%;background:radial-gradient(circle at 40% 35%, #a8ff80 0%, #62e61e 35%, #44c80c 75%, #2f9a08 100%);"></div>
<div style="left:506px;top:683px;width:61px;height:28px;background:linear-gradient(180deg,#a0a0a0 0%,#b0b0b0 25%,#b8b8b8 70%,#c4c4c4 100%);border-radius:1px;box-shadow:inset 1px 1px 0 #bdbdbd, inset -1px -1px 0 #d0d0d0;"></div>
<div style="left:510px;top:687px;width:54px;height:21px;background:#fff;"></div>
<div class="t" style="left:137.0px;width:800px;text-align:center;top:690.40px;font-size:14.6px;line-height:14.6px;color:#111;font-weight:400;-webkit-text-stroke:0.05px currentColor;">-16.18</div>
<div class="t" style="right:696px;top:689.82px;font-size:14.4px;line-height:14.4px;color:#141414;font-weight:400;">Ignition Timing Deg</div>
<div style="left:572.0px;top:689.5px;width:20px;height:20px;border-radius:50%;background:#e6e6e6;"></div>
<div style="left:570.0px;top:687.5px;width:20px;height:20px;border-radius:50%;background:radial-gradient(circle at 40% 35%, #a8ff80 0%, #62e61e 35%, #44c80c 75%, #2f9a08 100%);"></div>
<div style="left:506px;top:719px;width:61px;height:28px;background:linear-gradient(180deg,#a0a0a0 0%,#b0b0b0 25%,#b8b8b8 70%,#c4c4c4 100%);border-radius:1px;box-shadow:inset 1px 1px 0 #bdbdbd, inset -1px -1px 0 #d0d0d0;"></div>
<div style="left:510px;top:723px;width:54px;height:21px;background:#fff;"></div>
<div class="t" style="left:137.0px;width:800px;text-align:center;top:726.40px;font-size:14.6px;line-height:14.6px;color:#111;font-weight:400;-webkit-text-stroke:0.05px currentColor;">0.00</div>
<div class="t" style="right:696px;top:725.82px;font-size:14.4px;line-height:14.4px;color:#141414;font-weight:400;">Exhaust Variation Mid Exh Rise</div>
<div style="left:572.0px;top:725.5px;width:20px;height:20px;border-radius:50%;background:#e6e6e6;"></div>
<div style="left:570.0px;top:723.5px;width:20px;height:20px;border-radius:50%;background:radial-gradient(circle at 40% 35%, #a8ff80 0%, #62e61e 35%, #44c80c 75%, #2f9a08 100%);"></div>
<div style="left:506px;top:755px;width:61px;height:28px;background:linear-gradient(180deg,#a0a0a0 0%,#b0b0b0 25%,#b8b8b8 70%,#c4c4c4 100%);border-radius:1px;box-shadow:inset 1px 1px 0 #bdbdbd, inset -1px -1px 0 #d0d0d0;"></div>
<div style="left:510px;top:759px;width:54px;height:21px;background:#fff;"></div>
<div class="t" style="left:137.0px;width:800px;text-align:center;top:762.40px;font-size:14.6px;line-height:14.6px;color:#111;font-weight:400;-webkit-text-stroke:0.05px currentColor;">0.00</div>
<div class="t" style="right:696px;top:761.82px;font-size:14.4px;line-height:14.4px;color:#141414;font-weight:400;">Exhaust Variation Mid Exh Fall</div>
<div style="left:572.0px;top:761.5px;width:20px;height:20px;border-radius:50%;background:#e6e6e6;"></div>
<div style="left:570.0px;top:759.5px;width:20px;height:20px;border-radius:50%;background:radial-gradient(circle at 40% 35%, #a8ff80 0%, #62e61e 35%, #44c80c 75%, #2f9a08 100%);"></div>
</body></html>
